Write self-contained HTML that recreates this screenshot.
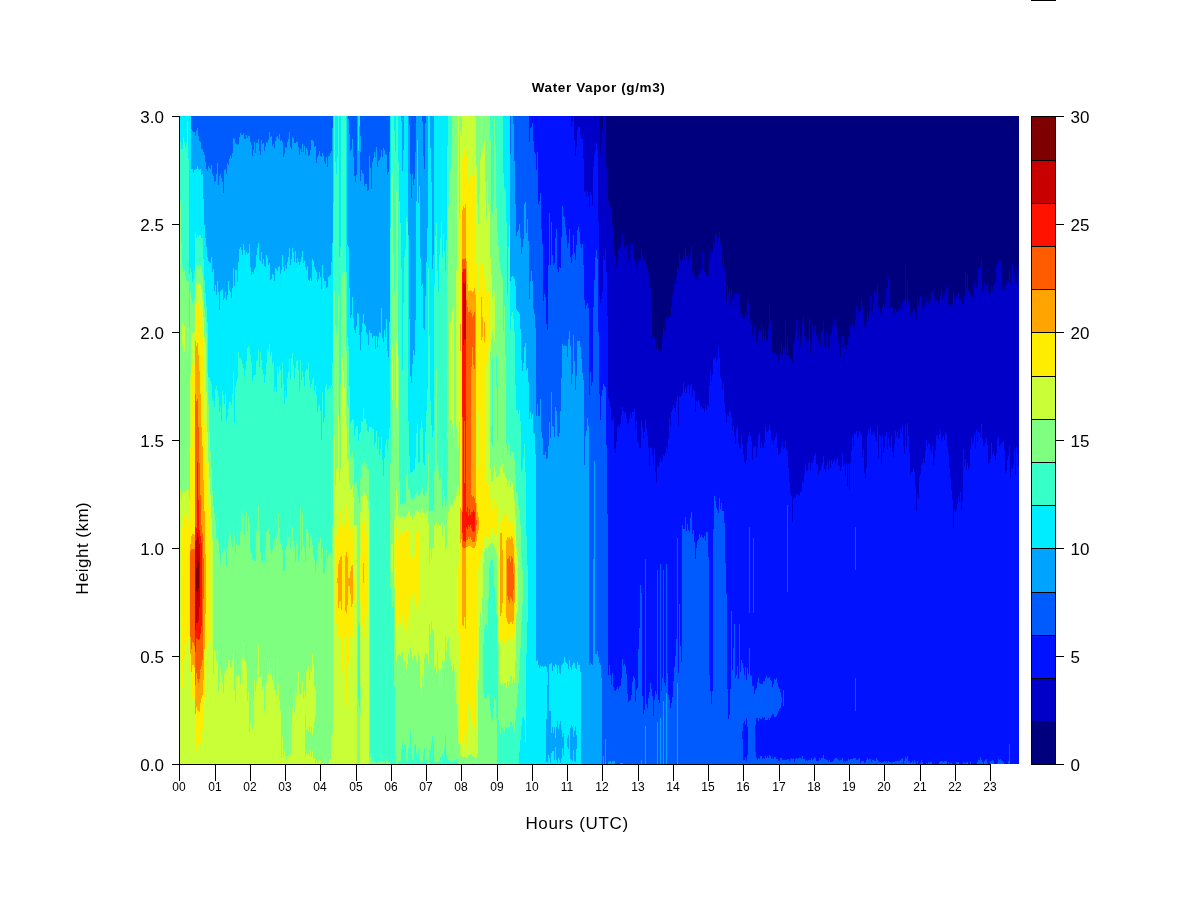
<!DOCTYPE html>
<html><head><meta charset="utf-8"><title>Water Vapor (g/m3)</title>
<style>
html,body{margin:0;padding:0;background:#fff;}
body{width:1200px;height:900px;overflow:hidden;position:relative;font-family:"Liberation Sans",sans-serif;}
svg{position:absolute;left:0;top:0;display:block}
text{font-family:"Liberation Sans",sans-serif;fill:#000}
.ax{font-size:17px}
.tk{font-size:12px}
.lab{font-size:17.5px}
.ttl{font-size:13.5px;font-weight:bold;letter-spacing:0.62px}
</style></head><body>
<svg width="1200" height="900" viewBox="0 0 1200 900">
<rect x="0" y="0" width="1200" height="900" fill="#fff"/>
<rect x="1031" y="0" width="25" height="1" fill="#000"/>
<g shape-rendering="crispEdges">
<path fill="#00007F" d="M599 116h1v9h-1zM600 116h1v37h-1zM601 116h1v25h-1zM602 116h1v14h-1zM606 116h1v52h-1zM607 116h1v69h-1zM608 116h1v85h-1zM609 116h1v84h-1zM610 116h1v91h-1zM611 116h1v99h-1zM612 116h1v110h-1zM613 116h1v130h-1zM614 116h1v139h-1zM615 116h1v144h-1zM616 116h1v150h-1zM617 116h1v145h-1zM618 116h1v134h-1zM619 116h1v133h-1zM620 116h1v130h-1zM621 116h1v126h-1zM622 116h1v118h-1zM623 116h1v126h-1zM624 116h1v131h-1zM625 116h1v133h-1zM626 116h1v129h-1zM627 116h1v130h-1zM628 116h1v144h-1zM629 116h1v145h-1zM630 116h1v127h-1zM631 116h1v134h-1zM632 116h1v128h-1zM633 116h1v137h-1zM634 116h1v143h-1zM635 116h1v159h-1zM636 116h1v149h-1zM637 116h1v163h-1zM638 116h1v144h-1zM639 116h1v146h-1zM640 116h1v143h-1zM641 116h1v131h-1zM642 116h1v138h-1zM643 116h1v142h-1zM644 116h1v145h-1zM645 116h1v141h-1zM646 116h1v151h-1zM647 116h1v152h-1zM648 116h1v157h-1zM649 116h1v176h-1zM650 116h1v171h-1zM651 116h1v193h-1zM652 116h1v221h-1zM653 116h1v222h-1zM654 116h1v221h-1zM655 116h1v226h-1zM656 116h1v234h-1zM657 116h1v229h-1zM658 116h1v234h-1zM659 116h1v234h-1zM660 116h1v235h-1zM661 116h1v234h-1zM662 116h1v221h-1zM663 116h1v211h-1zM664 116h1v215h-1zM665 116h1v209h-1zM666 116h1v202h-1zM667 116h1v205h-1zM668 116h1v201h-1zM669 116h1v203h-1zM670 116h1v199h-1zM671 116h1v190h-1zM672 116h1v180h-1zM673 116h1v176h-1zM674 116h1v168h-1zM675 116h1v168h-1zM676 116h1v160h-1zM677 116h1v150h-1zM678 116h1v153h-1zM679 116h1v138h-1zM680 116h1v144h-1zM681 116h1v155h-1zM682 116h1v143h-1zM683 116h1v138h-1zM684 116h1v144h-1zM685 116h1v132h-1zM686 116h1v140h-1zM687 116h1v140h-1zM688 116h1v143h-1zM689 116h1v149h-1zM690 116h1v138h-1zM691 116h1v130h-1zM692 116h1v157h-1zM693 116h1v154h-1zM694 116h1v160h-1zM695 116h1v168h-1zM696 116h1v164h-1zM697 116h1v164h-1zM698 116h1v159h-1zM699 116h1v157h-1zM700 116h1v154h-1zM701 116h1v154h-1zM702 116h1v135h-1zM703 116h1v151h-1zM704 116h1v156h-1zM705 116h1v156h-1zM706 116h1v160h-1zM707 116h1v160h-1zM708 116h1v159h-1zM709 116h1v144h-1zM710 116h1v135h-1zM711 116h1v143h-1zM712 116h1v136h-1zM713 116h1v125h-1zM714 116h1v128h-1zM715 116h1v117h-1zM716 116h1v119h-1zM717 116h1v127h-1zM718 116h1v122h-1zM719 116h1v116h-1zM720 116h1v128h-1zM721 116h1v133h-1zM722 116h1v149h-1zM723 116h1v143h-1zM724 116h1v153h-1zM725 116h1v166h-1zM726 116h1v186h-1zM727 116h1v169h-1zM728 116h1v177h-1zM729 116h1v174h-1zM730 116h1v189h-1zM731 116h1v174h-1zM732 116h1v182h-1zM733 116h1v185h-1zM734 116h1v177h-1zM735 116h1v191h-1zM736 116h1v178h-1zM737 116h1v179h-1zM738 116h1v178h-1zM739 116h1v191h-1zM740 116h1v195h-1zM741 116h1v197h-1zM742 116h1v202h-1zM743 116h1v203h-1zM744 116h1v202h-1zM745 116h1v196h-1zM746 116h1v200h-1zM747 116h1v182h-1zM748 116h1v188h-1zM749 116h1v206h-1zM750 116h1v205h-1zM751 116h1v210h-1zM752 116h1v219h-1zM753 116h1v219h-1zM754 116h1v209h-1zM755 116h1v220h-1zM756 116h1v227h-1zM757 116h1v226h-1zM758 116h1v216h-1zM759 116h1v213h-1zM760 116h1v215h-1zM761 116h1v208h-1zM762 116h1v224h-1zM763 116h1v212h-1zM764 116h1v224h-1zM765 116h1v215h-1zM766 116h1v224h-1zM767 116h1v226h-1zM768 116h1v213h-1zM769 116h1v187h-1zM770 116h1v206h-1zM771 116h1v233h-1zM772 116h1v236h-1zM773 116h1v239h-1zM774 116h1v237h-1zM775 116h1v237h-1zM776 116h1v238h-1zM777 116h1v242h-1zM778 116h1v246h-1zM779 116h1v244h-1zM780 116h1v237h-1zM781 116h1v226h-1zM782 116h1v239h-1zM783 116h1v231h-1zM784 116h1v232h-1zM785 116h1v206h-1zM786 116h1v240h-1zM787 116h1v221h-1zM788 116h1v239h-1zM789 116h1v245h-1zM790 116h1v243h-1zM791 116h1v243h-1zM792 116h1v246h-1zM793 116h1v229h-1zM794 116h1v223h-1zM795 116h1v215h-1zM796 116h1v203h-1zM797 116h1v214h-1zM798 116h1v222h-1zM799 116h1v214h-1zM800 116h1v229h-1zM801 116h1v221h-1zM802 116h1v206h-1zM803 116h1v200h-1zM804 116h1v219h-1zM805 116h1v230h-1zM806 116h1v224h-1zM807 116h1v235h-1zM808 116h1v224h-1zM809 116h1v201h-1zM810 116h1v237h-1zM811 116h1v229h-1zM812 116h1v209h-1zM813 116h1v220h-1zM814 116h1v215h-1zM815 116h1v209h-1zM816 116h1v219h-1zM817 116h1v234h-1zM818 116h1v225h-1zM819 116h1v223h-1zM820 116h1v229h-1zM821 116h1v214h-1zM822 116h1v216h-1zM823 116h1v205h-1zM824 116h1v229h-1zM825 116h1v231h-1zM826 116h1v216h-1zM827 116h1v231h-1zM828 116h1v233h-1zM829 116h1v231h-1zM830 116h1v219h-1zM831 116h1v219h-1zM832 116h1v209h-1zM833 116h1v219h-1zM834 116h1v202h-1zM835 116h1v208h-1zM836 116h1v211h-1zM837 116h1v216h-1zM838 116h1v225h-1zM839 116h1v232h-1zM840 116h1v241h-1zM841 116h1v231h-1zM842 116h1v220h-1zM843 116h1v232h-1zM844 116h1v229h-1zM845 116h1v230h-1zM846 116h1v233h-1zM847 116h1v229h-1zM848 116h1v221h-1zM849 116h1v230h-1zM850 116h1v210h-1zM851 116h1v212h-1zM852 116h1v208h-1zM853 116h1v216h-1zM854 116h1v211h-1zM855 116h1v204h-1zM856 116h1v190h-1zM857 116h1v204h-1zM858 116h1v196h-1zM859 116h1v197h-1zM860 116h1v195h-1zM861 116h1v182h-1zM862 116h1v190h-1zM863 116h1v203h-1zM864 116h1v211h-1zM865 116h1v212h-1zM866 116h1v205h-1zM867 116h1v196h-1zM868 116h1v202h-1zM869 116h1v195h-1zM870 116h1v179h-1zM871 116h1v195h-1zM872 116h1v197h-1zM873 116h1v187h-1zM874 116h1v176h-1zM875 116h1v186h-1zM876 116h1v177h-1zM877 116h1v167h-1zM878 116h1v192h-1zM879 116h1v190h-1zM880 116h1v197h-1zM881 116h1v201h-1zM882 116h1v191h-1zM883 116h1v188h-1zM884 116h1v191h-1zM885 116h1v187h-1zM886 116h1v173h-1zM887 116h1v187h-1zM888 116h1v161h-1zM889 116h1v196h-1zM890 116h1v192h-1zM891 116h1v190h-1zM892 116h1v192h-1zM893 116h1v201h-1zM894 116h1v198h-1zM895 116h1v192h-1zM896 116h1v195h-1zM897 116h1v197h-1zM898 116h1v193h-1zM899 116h1v200h-1zM900 116h1v191h-1zM901 116h1v197h-1zM902 116h1v186h-1zM903 116h1v194h-1zM904 116h1v184h-1zM905 116h1v147h-1zM906 116h1v188h-1zM907 116h1v165h-1zM908 116h1v184h-1zM909 116h1v191h-1zM910 116h1v199h-1zM911 116h1v195h-1zM912 116h1v196h-1zM913 116h1v192h-1zM914 116h1v194h-1zM915 116h1v199h-1zM916 116h1v203h-1zM917 116h1v184h-1zM918 116h1v189h-1zM919 116h1v182h-1zM920 116h1v180h-1zM921 116h1v182h-1zM922 116h1v191h-1zM923 116h1v194h-1zM924 116h1v189h-1zM925 116h1v191h-1zM926 116h1v182h-1zM927 116h1v186h-1zM928 116h1v188h-1zM929 116h1v183h-1zM930 116h1v186h-1zM931 116h1v175h-1zM932 116h1v176h-1zM933 116h1v185h-1zM934 116h1v184h-1zM935 116h1v187h-1zM936 116h1v184h-1zM937 116h1v185h-1zM938 116h1v188h-1zM939 116h1v184h-1zM940 116h1v180h-1zM941 116h1v173h-1zM942 116h1v183h-1zM943 116h1v177h-1zM944 116h1v178h-1zM945 116h1v181h-1zM946 116h1v170h-1zM947 116h1v188h-1zM948 116h1v188h-1zM949 116h1v191h-1zM950 116h1v191h-1zM951 116h1v188h-1zM952 116h1v188h-1zM953 116h1v176h-1zM954 116h1v181h-1zM955 116h1v186h-1zM956 116h1v179h-1zM957 116h1v182h-1zM958 116h1v177h-1zM959 116h1v187h-1zM960 116h1v184h-1zM961 116h1v190h-1zM962 116h1v188h-1zM963 116h1v189h-1zM964 116h1v180h-1zM965 116h1v156h-1zM966 116h1v173h-1zM967 116h1v158h-1zM968 116h1v175h-1zM969 116h1v173h-1zM970 116h1v179h-1zM971 116h1v179h-1zM972 116h1v182h-1zM973 116h1v181h-1zM974 116h1v167h-1zM975 116h1v182h-1zM976 116h1v172h-1zM977 116h1v172h-1zM978 116h1v152h-1zM979 116h1v158h-1zM980 116h1v152h-1zM981 116h1v142h-1zM982 116h1v176h-1zM983 116h1v175h-1zM984 116h1v167h-1zM985 116h1v174h-1zM986 116h1v170h-1zM987 116h1v166h-1zM988 116h1v175h-1zM989 116h1v182h-1zM990 116h1v178h-1zM991 116h1v170h-1zM992 116h1v175h-1zM993 116h1v170h-1zM994 116h1v167h-1zM995 116h1v167h-1zM996 116h1v150h-1zM997 116h1v167h-1zM998 116h1v145h-1zM999 116h1v152h-1zM1000 116h1v145h-1zM1001 116h1v154h-1zM1002 116h1v174h-1zM1003 116h1v169h-1zM1004 116h1v173h-1zM1005 116h1v170h-1zM1006 116h1v166h-1zM1007 116h1v169h-1zM1008 116h1v166h-1zM1009 116h1v154h-1zM1010 116h1v167h-1zM1011 116h1v160h-1zM1012 116h1v147h-1zM1013 116h1v159h-1zM1014 116h1v158h-1zM1015 116h1v165h-1zM1016 116h1v167h-1zM1017 116h1v158h-1zM1018 116h1v152h-1z"/>
<path fill="#0000C8" d="M571 116h1v11h-1zM572 116h1v6h-1zM574 116h1v24h-1zM575 116h1v40h-1zM576 116h1v31h-1zM577 116h1v14h-1zM578 116h1v11h-1zM579 116h1v11h-1zM580 116h1v19h-1zM581 116h1v23h-1zM582 116h1v23h-1zM583 116h1v43h-1zM584 116h1v76h-1zM585 116h1v74h-1zM586 116h1v81h-1zM587 116h1v75h-1zM588 116h1v80h-1zM589 116h1v91h-1zM590 116h1v76h-1zM591 116h1v79h-1zM592 116h1v89h-1zM593 116h1v51h-1zM594 116h1v38h-1zM595 116h1v35h-1zM596 116h1v27h-1zM597 116h1v33h-1zM598 116h1v105h-1zM599 125h1v171h-1zM600 153h1v150h-1zM601 141h1v158h-1zM602 130h1v162h-1zM603 116h1v140h-1zM604 116h1v144h-1zM605 116h1v133h-1zM606 168h1v104h-1zM607 185h1v131h-1zM608 201h1v197h-1zM609 200h1v201h-1zM610 207h1v200h-1zM611 215h1v205h-1zM612 226h1v195h-1zM613 246h1v172h-1zM614 255h1v194h-1zM615 260h1v193h-1zM616 266h1v175h-1zM617 261h1v166h-1zM618 250h1v175h-1zM619 249h1v179h-1zM620 246h1v178h-1zM621 242h1v173h-1zM622 234h1v173h-1zM623 242h1v169h-1zM624 247h1v165h-1zM625 249h1v164h-1zM626 245h1v173h-1zM627 246h1v178h-1zM628 260h1v163h-1zM629 261h1v158h-1zM630 243h1v170h-1zM631 250h1v168h-1zM632 244h1v168h-1zM633 253h1v159h-1zM634 259h1v150h-1zM635 275h1v155h-1zM636 265h1v156h-1zM637 279h1v162h-1zM638 260h1v183h-1zM639 262h1v186h-1zM640 259h1v189h-1zM641 247h1v173h-1zM642 254h1v173h-1zM643 258h1v180h-1zM644 261h1v171h-1zM645 257h1v162h-1zM646 267h1v161h-1zM647 268h1v168h-1zM648 273h1v175h-1zM649 292h1v174h-1zM650 287h1v160h-1zM651 309h1v139h-1zM652 337h1v118h-1zM653 338h1v127h-1zM654 337h1v113h-1zM655 342h1v130h-1zM656 350h1v133h-1zM657 345h1v121h-1zM658 350h1v117h-1zM659 350h1v112h-1zM660 351h1v107h-1zM661 350h1v112h-1zM662 337h1v123h-1zM663 327h1v128h-1zM664 331h1v125h-1zM665 325h1v128h-1zM666 318h1v129h-1zM667 321h1v128h-1zM668 317h1v122h-1zM669 319h1v99h-1zM670 315h1v111h-1zM671 306h1v106h-1zM672 296h1v113h-1zM673 292h1v113h-1zM674 284h1v124h-1zM675 284h1v128h-1zM676 276h1v125h-1zM677 266h1v130h-1zM678 269h1v157h-1zM679 254h1v143h-1zM680 260h1v137h-1zM681 271h1v125h-1zM682 259h1v134h-1zM683 254h1v128h-1zM684 260h1v132h-1zM685 248h1v139h-1zM686 256h1v137h-1zM687 256h1v130h-1zM688 259h1v126h-1zM689 265h1v129h-1zM690 254h1v132h-1zM691 246h1v138h-1zM692 273h1v124h-1zM693 270h1v119h-1zM694 276h1v115h-1zM695 284h1v128h-1zM696 280h1v121h-1zM697 280h1v122h-1zM698 275h1v125h-1zM699 273h1v128h-1zM700 270h1v137h-1zM701 270h1v136h-1zM702 251h1v158h-1zM703 267h1v141h-1zM704 272h1v140h-1zM705 272h1v132h-1zM706 276h1v134h-1zM707 276h1v129h-1zM708 275h1v131h-1zM709 260h1v125h-1zM710 251h1v120h-1zM711 259h1v122h-1zM712 252h1v123h-1zM713 241h1v118h-1zM714 244h1v114h-1zM715 233h1v124h-1zM716 235h1v127h-1zM717 243h1v116h-1zM718 238h1v109h-1zM719 232h1v126h-1zM720 244h1v133h-1zM721 249h1v131h-1zM722 265h1v125h-1zM723 259h1v124h-1zM724 269h1v134h-1zM725 282h1v131h-1zM726 302h1v121h-1zM727 285h1v130h-1zM728 293h1v123h-1zM729 290h1v122h-1zM730 305h1v106h-1zM731 290h1v127h-1zM732 298h1v132h-1zM733 301h1v125h-1zM734 293h1v143h-1zM735 307h1v137h-1zM736 294h1v135h-1zM737 295h1v132h-1zM738 294h1v149h-1zM739 307h1v141h-1zM740 311h1v138h-1zM741 313h1v122h-1zM742 318h1v126h-1zM743 319h1v135h-1zM744 318h1v144h-1zM745 312h1v152h-1zM746 316h1v144h-1zM747 298h1v144h-1zM748 304h1v132h-1zM749 322h1v110h-1zM750 321h1v115h-1zM751 326h1v115h-1zM752 335h1v125h-1zM753 335h1v113h-1zM754 325h1v121h-1zM755 336h1v110h-1zM756 343h1v114h-1zM757 342h1v106h-1zM758 332h1v104h-1zM759 329h1v104h-1zM760 331h1v117h-1zM761 324h1v118h-1zM762 340h1v107h-1zM763 328h1v120h-1zM764 340h1v102h-1zM765 331h1v96h-1zM766 340h1v91h-1zM767 342h1v90h-1zM768 329h1v101h-1zM769 303h1v122h-1zM770 322h1v108h-1zM771 349h1v90h-1zM772 352h1v89h-1zM773 355h1v90h-1zM774 353h1v87h-1zM775 353h1v84h-1zM776 354h1v79h-1zM777 358h1v90h-1zM778 362h1v93h-1zM779 360h1v94h-1zM780 353h1v99h-1zM781 342h1v105h-1zM782 355h1v87h-1zM783 347h1v102h-1zM784 348h1v100h-1zM785 322h1v119h-1zM786 356h1v94h-1zM787 337h1v114h-1zM788 355h1v113h-1zM789 361h1v121h-1zM790 359h1v134h-1zM791 359h1v137h-1zM792 362h1v160h-1zM793 345h1v154h-1zM794 339h1v158h-1zM795 331h1v167h-1zM796 319h1v174h-1zM797 330h1v165h-1zM798 338h1v157h-1zM799 330h1v166h-1zM800 345h1v147h-1zM801 337h1v155h-1zM802 322h1v160h-1zM803 316h1v167h-1zM804 335h1v139h-1zM805 346h1v118h-1zM806 340h1v130h-1zM807 351h1v120h-1zM808 340h1v123h-1zM809 317h1v145h-1zM810 353h1v118h-1zM811 345h1v118h-1zM812 325h1v138h-1zM813 336h1v124h-1zM814 331h1v125h-1zM815 325h1v128h-1zM816 335h1v129h-1zM817 350h1v115h-1zM818 341h1v134h-1zM819 339h1v132h-1zM820 345h1v125h-1zM821 330h1v136h-1zM822 332h1v131h-1zM823 321h1v135h-1zM824 345h1v124h-1zM825 347h1v125h-1zM826 332h1v133h-1zM827 347h1v115h-1zM828 349h1v121h-1zM829 347h1v113h-1zM830 335h1v133h-1zM831 335h1v125h-1zM832 325h1v139h-1zM833 335h1v126h-1zM834 318h1v141h-1zM835 324h1v139h-1zM836 327h1v133h-1zM837 332h1v126h-1zM838 341h1v125h-1zM839 348h1v118h-1zM840 357h1v114h-1zM841 347h1v120h-1zM842 336h1v117h-1zM843 348h1v118h-1zM844 345h1v119h-1zM845 346h1v130h-1zM846 349h1v114h-1zM847 345h1v142h-1zM848 337h1v127h-1zM849 346h1v144h-1zM850 326h1v137h-1zM851 328h1v123h-1zM852 324h1v113h-1zM853 332h1v115h-1zM854 327h1v107h-1zM855 320h1v114h-1zM856 306h1v125h-1zM857 320h1v118h-1zM858 312h1v124h-1zM859 313h1v118h-1zM860 311h1v122h-1zM861 298h1v137h-1zM862 306h1v151h-1zM863 319h1v130h-1zM864 327h1v146h-1zM865 328h1v150h-1zM866 321h1v147h-1zM867 312h1v123h-1zM868 318h1v113h-1zM869 311h1v122h-1zM870 295h1v132h-1zM871 311h1v124h-1zM872 313h1v122h-1zM873 303h1v128h-1zM874 292h1v141h-1zM875 302h1v135h-1zM876 293h1v148h-1zM877 283h1v143h-1zM878 308h1v150h-1zM879 306h1v129h-1zM880 313h1v123h-1zM881 317h1v147h-1zM882 307h1v128h-1zM883 304h1v149h-1zM884 307h1v140h-1zM885 303h1v133h-1zM886 289h1v143h-1zM887 303h1v146h-1zM888 277h1v161h-1zM889 312h1v134h-1zM890 308h1v140h-1zM891 306h1v130h-1zM892 308h1v144h-1zM893 317h1v140h-1zM894 314h1v130h-1zM895 308h1v123h-1zM896 311h1v126h-1zM897 313h1v119h-1zM898 309h1v130h-1zM899 316h1v122h-1zM900 307h1v122h-1zM901 313h1v120h-1zM902 302h1v123h-1zM903 310h1v136h-1zM904 300h1v154h-1zM905 263h1v162h-1zM906 304h1v143h-1zM907 281h1v142h-1zM908 300h1v136h-1zM909 307h1v146h-1zM910 315h1v160h-1zM911 311h1v161h-1zM912 312h1v160h-1zM913 308h1v160h-1zM914 310h1v162h-1zM915 315h1v171h-1zM916 319h1v192h-1zM917 300h1v194h-1zM918 305h1v194h-1zM919 298h1v179h-1zM920 296h1v178h-1zM921 298h1v167h-1zM922 307h1v156h-1zM923 310h1v148h-1zM924 305h1v158h-1zM925 307h1v144h-1zM926 298h1v142h-1zM927 302h1v145h-1zM928 304h1v139h-1zM929 299h1v145h-1zM930 302h1v148h-1zM931 291h1v162h-1zM932 292h1v154h-1zM933 301h1v164h-1zM934 300h1v158h-1zM935 303h1v147h-1zM936 300h1v136h-1zM937 301h1v134h-1zM938 304h1v135h-1zM939 300h1v134h-1zM940 296h1v134h-1zM941 289h1v152h-1zM942 299h1v139h-1zM943 293h1v143h-1zM944 294h1v146h-1zM945 297h1v135h-1zM946 286h1v148h-1zM947 304h1v143h-1zM948 304h1v150h-1zM949 307h1v161h-1zM950 307h1v171h-1zM951 304h1v186h-1zM952 304h1v196h-1zM953 292h1v236h-1zM954 297h1v213h-1zM955 302h1v210h-1zM956 295h1v214h-1zM957 298h1v206h-1zM958 293h1v204h-1zM959 303h1v199h-1zM960 300h1v192h-1zM961 306h1v204h-1zM962 304h1v197h-1zM963 305h1v144h-1zM964 296h1v170h-1zM965 272h1v187h-1zM966 289h1v181h-1zM967 274h1v189h-1zM968 291h1v178h-1zM969 289h1v178h-1zM970 295h1v154h-1zM971 295h1v143h-1zM972 298h1v146h-1zM973 297h1v145h-1zM974 283h1v151h-1zM975 298h1v151h-1zM976 288h1v142h-1zM977 288h1v154h-1zM978 268h1v164h-1zM979 274h1v159h-1zM980 268h1v169h-1zM981 258h1v166h-1zM982 292h1v147h-1zM983 291h1v155h-1zM984 283h1v163h-1zM985 290h1v153h-1zM986 286h1v152h-1zM987 282h1v163h-1zM988 291h1v173h-1zM989 298h1v165h-1zM990 294h1v165h-1zM991 286h1v157h-1zM992 291h1v164h-1zM993 286h1v166h-1zM994 283h1v173h-1zM995 283h1v177h-1zM996 266h1v187h-1zM997 283h1v156h-1zM998 261h1v175h-1zM999 268h1v179h-1zM1000 261h1v184h-1zM1001 270h1v173h-1zM1002 290h1v152h-1zM1003 285h1v156h-1zM1004 289h1v161h-1zM1005 286h1v187h-1zM1006 282h1v189h-1zM1007 285h1v175h-1zM1008 282h1v174h-1zM1009 270h1v176h-1zM1010 283h1v195h-1zM1011 276h1v192h-1zM1012 263h1v206h-1zM1013 275h1v190h-1zM1014 274h1v176h-1zM1015 281h1v194h-1zM1016 283h1v164h-1zM1017 274h1v179h-1zM1018 268h1v199h-1z"/>
<path fill="#0012FF" d="M529 116h1v26h-1zM530 116h1v12h-1zM531 116h1v11h-1zM532 116h1v7h-1zM533 116h1v25h-1zM534 116h1v36h-1zM535 116h1v38h-1zM536 116h1v54h-1zM537 116h1v36h-1zM538 116h1v88h-1zM539 116h1v85h-1zM540 116h1v77h-1zM541 116h1v113h-1zM542 116h1v128h-1zM543 116h1v185h-1zM544 116h1v178h-1zM545 116h1v181h-1zM546 116h1v208h-1zM547 116h1v214h-1zM548 116h1v149h-1zM549 116h1v97h-1zM550 116h1v149h-1zM551 116h1v106h-1zM552 116h1v139h-1zM553 116h1v149h-1zM554 116h1v147h-1zM555 116h1v122h-1zM556 116h1v113h-1zM557 116h1v153h-1zM558 116h1v156h-1zM559 116h1v151h-1zM560 116h1v152h-1zM561 116h1v121h-1zM562 116h1v90h-1zM563 116h1v100h-1zM564 116h1v101h-1zM565 116h1v111h-1zM566 116h1v119h-1zM567 116h1v132h-1zM568 116h1v127h-1zM569 116h1v113h-1zM570 116h1v141h-1zM571 127h1v136h-1zM572 122h1v133h-1zM573 116h1v119h-1zM574 140h1v113h-1zM575 156h1v104h-1zM576 147h1v98h-1zM577 130h1v100h-1zM578 127h1v100h-1zM579 127h1v105h-1zM580 135h1v109h-1zM581 139h1v109h-1zM582 139h1v105h-1zM583 159h1v106h-1zM584 192h1v108h-1zM585 190h1v119h-1zM586 197h1v108h-1zM587 191h1v112h-1zM588 196h1v112h-1zM589 207h1v188h-1zM590 192h1v180h-1zM591 195h1v191h-1zM592 205h1v177h-1zM593 167h1v140h-1zM594 154h1v126h-1zM595 151h1v106h-1zM596 143h1v107h-1zM597 149h1v110h-1zM598 221h1v111h-1zM599 296h1v98h-1zM600 303h1v117h-1zM601 299h1v97h-1zM602 292h1v98h-1zM603 256h1v128h-1zM604 260h1v126h-1zM605 249h1v138h-1zM606 272h1v173h-1zM607 316h1v198h-1zM608 398h1v277h-1zM609 401h1v264h-1zM610 407h1v268h-1zM611 420h1v265h-1zM612 421h1v252h-1zM613 418h1v269h-1zM614 449h1v241h-1zM615 453h1v238h-1zM616 441h1v248h-1zM617 427h1v260h-1zM618 425h1v264h-1zM619 428h1v258h-1zM620 424h1v262h-1zM621 415h1v263h-1zM622 407h1v252h-1zM623 411h1v255h-1zM624 412h1v252h-1zM625 413h1v253h-1zM626 418h1v256h-1zM627 424h1v270h-1zM628 423h1v279h-1zM629 419h1v282h-1zM630 413h1v287h-1zM631 418h1v277h-1zM632 412h1v270h-1zM633 412h1v264h-1zM634 409h1v269h-1zM635 430h1v272h-1zM636 421h1v269h-1zM637 441h1v247h-1zM638 443h1v206h-1zM639 448h1v180h-1zM640 448h1v137h-1zM641 420h1v173h-1zM642 427h1v269h-1zM643 438h1v276h-1zM644 432h1v278h-1zM645 419h1v140h-1zM646 428h1v276h-1zM647 436h1v272h-1zM648 448h1v250h-1zM649 466h1v226h-1zM650 447h1v236h-1zM651 448h1v241h-1zM652 455h1v241h-1zM653 465h1v251h-1zM654 450h1v250h-1zM655 472h1v219h-1zM656 483h1v211h-1zM657 466h1v104h-1zM658 467h1v233h-1zM659 462h1v241h-1zM660 458h1v106h-1zM661 462h1v229h-1zM662 460h1v218h-1zM663 455h1v115h-1zM664 456h1v227h-1zM665 453h1v233h-1zM666 447h1v117h-1zM667 449h1v224h-1zM668 439h1v256h-1zM669 418h1v282h-1zM670 426h1v282h-1zM671 412h1v291h-1zM672 409h1v288h-1zM673 405h1v276h-1zM674 408h1v259h-1zM675 412h1v244h-1zM676 401h1v238h-1zM677 396h1v142h-1zM678 426h1v247h-1zM679 397h1v207h-1zM680 397h1v249h-1zM681 396h1v266h-1zM682 393h1v132h-1zM683 382h1v147h-1zM684 392h1v137h-1zM685 387h1v130h-1zM686 393h1v138h-1zM687 386h1v138h-1zM688 385h1v145h-1zM689 394h1v138h-1zM690 386h1v132h-1zM691 384h1v128h-1zM692 397h1v137h-1zM693 389h1v141h-1zM694 391h1v151h-1zM695 412h1v147h-1zM696 401h1v147h-1zM697 402h1v139h-1zM698 400h1v139h-1zM699 401h1v133h-1zM700 407h1v130h-1zM701 406h1v129h-1zM702 409h1v128h-1zM703 408h1v130h-1zM704 412h1v124h-1zM705 404h1v137h-1zM706 410h1v122h-1zM707 405h1v127h-1zM708 406h1v151h-1zM709 385h1v290h-1zM710 371h1v320h-1zM711 381h1v323h-1zM712 375h1v316h-1zM713 359h1v170h-1zM714 358h1v138h-1zM715 357h1v144h-1zM716 362h1v146h-1zM717 359h1v151h-1zM718 347h1v166h-1zM719 358h1v140h-1zM720 377h1v132h-1zM721 380h1v123h-1zM722 390h1v121h-1zM723 383h1v128h-1zM724 403h1v120h-1zM725 413h1v150h-1zM726 423h1v171h-1zM727 415h1v274h-1zM728 416h1v303h-1zM729 412h1v303h-1zM730 411h1v278h-1zM731 417h1v194h-1zM732 430h1v240h-1zM733 426h1v222h-1zM734 436h1v188h-1zM735 444h1v234h-1zM736 429h1v246h-1zM737 427h1v239h-1zM738 443h1v236h-1zM739 448h1v176h-1zM740 449h1v223h-1zM741 435h1v225h-1zM742 444h1v219h-1zM742 731h1v8h-1zM743 454h1v214h-1zM743 723h1v37h-1zM744 462h1v213h-1zM744 721h1v39h-1zM745 464h1v203h-1zM745 725h1v32h-1zM746 460h1v220h-1zM746 718h1v43h-1zM747 442h1v226h-1zM747 727h1v28h-1zM748 436h1v238h-1zM749 432h1v95h-1zM749 613h1v35h-1zM750 436h1v239h-1zM751 441h1v235h-1zM752 460h1v226h-1zM753 448h1v90h-1zM753 613h1v73h-1zM754 446h1v248h-1zM755 446h1v244h-1zM755 725h1v27h-1zM756 457h1v231h-1zM756 718h1v40h-1zM757 448h1v234h-1zM757 718h1v42h-1zM758 436h1v242h-1zM758 721h1v37h-1zM759 433h1v250h-1zM759 718h1v41h-1zM760 448h1v236h-1zM760 719h1v37h-1zM761 442h1v242h-1zM761 719h1v37h-1zM762 447h1v237h-1zM762 717h1v42h-1zM763 448h1v233h-1zM763 718h1v40h-1zM764 442h1v239h-1zM764 717h1v42h-1zM765 427h1v251h-1zM765 720h1v36h-1zM766 431h1v245h-1zM766 720h1v38h-1zM767 432h1v246h-1zM767 720h1v36h-1zM768 430h1v248h-1zM768 718h1v40h-1zM769 425h1v252h-1zM769 720h1v35h-1zM770 430h1v250h-1zM770 718h1v38h-1zM771 439h1v242h-1zM771 716h1v43h-1zM772 441h1v246h-1zM772 714h1v44h-1zM773 445h1v239h-1zM773 714h1v45h-1zM774 440h1v239h-1zM774 717h1v40h-1zM775 437h1v243h-1zM775 717h1v40h-1zM776 433h1v245h-1zM776 716h1v43h-1zM777 448h1v235h-1zM777 714h1v45h-1zM778 455h1v232h-1zM778 711h1v50h-1zM779 454h1v235h-1zM779 709h1v52h-1zM780 452h1v240h-1zM780 708h1v50h-1zM781 447h1v250h-1zM781 703h1v55h-1zM782 442h1v318h-1zM783 449h1v241h-1zM783 706h1v54h-1zM784 448h1v312h-1zM785 441h1v319h-1zM786 450h1v310h-1zM787 451h1v54h-1zM787 592h1v167h-1zM788 468h1v291h-1zM789 482h1v279h-1zM790 493h1v266h-1zM791 496h1v262h-1zM792 522h1v237h-1zM793 499h1v259h-1zM794 497h1v265h-1zM795 498h1v261h-1zM796 493h1v265h-1zM797 495h1v264h-1zM798 495h1v263h-1zM799 496h1v262h-1zM800 492h1v266h-1zM801 492h1v267h-1zM802 482h1v274h-1zM803 483h1v276h-1zM804 474h1v285h-1zM805 464h1v297h-1zM806 470h1v290h-1zM807 471h1v290h-1zM808 463h1v297h-1zM809 462h1v298h-1zM810 471h1v289h-1zM811 463h1v295h-1zM812 463h1v297h-1zM813 460h1v299h-1zM814 456h1v301h-1zM815 453h1v305h-1zM816 464h1v297h-1zM817 465h1v296h-1zM818 475h1v286h-1zM819 471h1v287h-1zM820 470h1v290h-1zM821 466h1v292h-1zM822 463h1v295h-1zM823 456h1v299h-1zM824 469h1v290h-1zM825 472h1v287h-1zM826 465h1v295h-1zM827 462h1v298h-1zM828 470h1v292h-1zM829 460h1v300h-1zM830 468h1v294h-1zM831 460h1v302h-1zM832 464h1v298h-1zM833 461h1v300h-1zM834 459h1v300h-1zM835 463h1v295h-1zM836 460h1v298h-1zM837 458h1v301h-1zM838 466h1v294h-1zM839 466h1v295h-1zM840 471h1v289h-1zM841 467h1v293h-1zM842 453h1v305h-1zM843 466h1v296h-1zM844 464h1v297h-1zM845 476h1v286h-1zM846 463h1v298h-1zM847 487h1v274h-1zM848 464h1v295h-1zM849 490h1v270h-1zM850 463h1v296h-1zM851 451h1v308h-1zM852 437h1v322h-1zM853 447h1v311h-1zM854 434h1v324h-1zM855 434h1v93h-1zM855 570h1v108h-1zM855 711h1v47h-1zM856 431h1v329h-1zM857 438h1v322h-1zM858 436h1v323h-1zM859 431h1v327h-1zM860 433h1v330h-1zM861 435h1v326h-1zM862 457h1v304h-1zM863 449h1v312h-1zM864 473h1v290h-1zM865 478h1v284h-1zM866 468h1v292h-1zM867 435h1v323h-1zM868 431h1v329h-1zM869 433h1v326h-1zM870 427h1v332h-1zM871 435h1v327h-1zM872 435h1v325h-1zM873 431h1v329h-1zM874 433h1v328h-1zM875 437h1v324h-1zM876 441h1v317h-1zM877 426h1v334h-1zM878 458h1v303h-1zM879 435h1v327h-1zM880 436h1v326h-1zM881 464h1v299h-1zM882 435h1v327h-1zM883 453h1v309h-1zM884 447h1v314h-1zM885 436h1v326h-1zM886 432h1v329h-1zM887 449h1v314h-1zM888 438h1v323h-1zM889 446h1v316h-1zM890 448h1v314h-1zM891 436h1v327h-1zM892 452h1v310h-1zM893 457h1v305h-1zM894 444h1v318h-1zM895 431h1v330h-1zM896 437h1v324h-1zM897 432h1v329h-1zM898 439h1v322h-1zM899 438h1v323h-1zM900 429h1v331h-1zM901 433h1v326h-1zM902 425h1v333h-1zM903 446h1v318h-1zM904 454h1v307h-1zM905 425h1v332h-1zM906 447h1v312h-1zM907 423h1v333h-1zM908 436h1v325h-1zM909 453h1v308h-1zM910 475h1v288h-1zM911 472h1v290h-1zM912 472h1v289h-1zM913 468h1v295h-1zM914 472h1v288h-1zM915 486h1v276h-1zM916 511h1v253h-1zM917 494h1v267h-1zM918 499h1v265h-1zM919 477h1v287h-1zM920 474h1v289h-1zM921 465h1v295h-1zM922 463h1v299h-1zM923 458h1v306h-1zM924 463h1v301h-1zM925 451h1v313h-1zM926 440h1v323h-1zM927 447h1v317h-1zM928 443h1v319h-1zM929 444h1v319h-1zM930 450h1v312h-1zM931 453h1v309h-1zM932 446h1v318h-1zM933 465h1v299h-1zM934 458h1v306h-1zM935 450h1v314h-1zM936 436h1v328h-1zM937 435h1v329h-1zM938 439h1v325h-1zM939 434h1v328h-1zM940 430h1v331h-1zM941 441h1v320h-1zM942 438h1v323h-1zM943 436h1v326h-1zM944 440h1v321h-1zM945 432h1v329h-1zM946 434h1v327h-1zM947 447h1v317h-1zM948 454h1v308h-1zM949 468h1v296h-1zM950 478h1v285h-1zM951 490h1v273h-1zM952 500h1v264h-1zM953 528h1v236h-1zM954 510h1v254h-1zM955 512h1v252h-1zM956 509h1v253h-1zM957 504h1v258h-1zM958 497h1v265h-1zM959 502h1v262h-1zM960 492h1v272h-1zM961 510h1v254h-1zM962 501h1v263h-1zM963 449h1v313h-1zM964 466h1v297h-1zM965 459h1v304h-1zM966 470h1v292h-1zM967 463h1v299h-1zM968 469h1v295h-1zM969 467h1v297h-1zM970 449h1v313h-1zM971 438h1v326h-1zM972 444h1v320h-1zM973 442h1v322h-1zM974 434h1v330h-1zM975 449h1v315h-1zM976 430h1v334h-1zM977 442h1v320h-1zM978 432h1v328h-1zM979 433h1v327h-1zM980 437h1v320h-1zM981 424h1v336h-1zM982 439h1v323h-1zM983 446h1v318h-1zM984 446h1v315h-1zM985 443h1v317h-1zM986 438h1v321h-1zM987 445h1v318h-1zM988 464h1v300h-1zM989 463h1v301h-1zM990 459h1v302h-1zM991 443h1v318h-1zM992 455h1v305h-1zM993 452h1v309h-1zM994 456h1v308h-1zM995 460h1v304h-1zM996 453h1v311h-1zM997 439h1v324h-1zM998 436h1v323h-1zM999 447h1v313h-1zM1000 445h1v314h-1zM1001 443h1v318h-1zM1002 442h1v319h-1zM1003 441h1v321h-1zM1004 450h1v314h-1zM1005 473h1v291h-1zM1006 471h1v293h-1zM1007 460h1v304h-1zM1008 456h1v305h-1zM1009 446h1v298h-1zM1010 478h1v286h-1zM1011 468h1v296h-1zM1012 469h1v295h-1zM1013 465h1v299h-1zM1014 450h1v314h-1zM1015 475h1v289h-1zM1016 447h1v317h-1zM1017 453h1v311h-1zM1018 467h1v297h-1z"/>
<path fill="#005BFF" d="M191 116h1v13h-1zM192 116h1v15h-1zM193 116h1v16h-1zM194 116h1v16h-1zM195 116h1v20h-1zM196 116h1v15h-1zM197 116h1v12h-1zM198 116h1v20h-1zM199 116h1v25h-1zM200 116h1v26h-1zM201 116h1v33h-1zM202 116h1v33h-1zM203 116h1v36h-1zM204 116h1v39h-1zM205 116h1v46h-1zM206 116h1v53h-1zM207 116h1v55h-1zM208 116h1v50h-1zM209 116h1v52h-1zM210 116h1v53h-1zM211 116h1v49h-1zM212 116h1v58h-1zM213 116h1v60h-1zM214 116h1v66h-1zM215 116h1v65h-1zM216 116h1v58h-1zM217 116h1v47h-1zM218 116h1v69h-1zM219 116h1v60h-1zM220 116h1v58h-1zM221 116h1v62h-1zM222 116h1v66h-1zM223 116h1v77h-1zM224 116h1v54h-1zM225 116h1v53h-1zM226 116h1v58h-1zM227 116h1v47h-1zM228 116h1v49h-1zM229 116h1v43h-1zM230 116h1v40h-1zM231 116h1v42h-1zM232 116h1v37h-1zM233 116h1v22h-1zM234 116h1v23h-1zM235 116h1v27h-1zM236 116h1v28h-1zM237 116h1v29h-1zM238 116h1v28h-1zM239 116h1v21h-1zM240 116h1v17h-1zM241 116h1v19h-1zM242 116h1v19h-1zM243 116h1v17h-1zM244 116h1v23h-1zM245 116h1v23h-1zM246 116h1v19h-1zM247 116h1v22h-1zM248 116h1v20h-1zM249 116h1v20h-1zM250 116h1v26h-1zM251 116h1v29h-1zM252 116h1v40h-1zM253 116h1v34h-1zM254 116h1v26h-1zM255 116h1v37h-1zM256 116h1v27h-1zM257 116h1v27h-1zM258 116h1v23h-1zM259 116h1v35h-1zM260 116h1v39h-1zM261 116h1v24h-1zM262 116h1v28h-1zM263 116h1v27h-1zM264 116h1v35h-1zM265 116h1v30h-1zM266 116h1v26h-1zM267 116h1v27h-1zM268 116h1v24h-1zM269 116h1v16h-1zM270 116h1v21h-1zM271 116h1v20h-1zM272 116h1v30h-1zM273 116h1v28h-1zM274 116h1v32h-1zM275 116h1v25h-1zM276 116h1v21h-1zM277 116h1v20h-1zM278 116h1v23h-1zM279 116h1v18h-1zM280 116h1v25h-1zM281 116h1v24h-1zM282 116h1v26h-1zM283 116h1v41h-1zM284 116h1v38h-1zM285 116h1v31h-1zM286 116h1v32h-1zM287 116h1v26h-1zM288 116h1v23h-1zM289 116h1v16h-1zM290 116h1v31h-1zM291 116h1v33h-1zM292 116h1v21h-1zM293 116h1v22h-1zM294 116h1v27h-1zM295 116h1v27h-1zM296 116h1v26h-1zM297 116h1v26h-1zM298 116h1v31h-1zM299 116h1v39h-1zM300 116h1v33h-1zM301 116h1v36h-1zM302 116h1v28h-1zM303 116h1v36h-1zM304 116h1v30h-1zM305 116h1v39h-1zM306 116h1v32h-1zM307 116h1v34h-1zM308 116h1v40h-1zM309 116h1v39h-1zM310 116h1v34h-1zM311 116h1v24h-1zM312 116h1v24h-1zM313 116h1v25h-1zM314 116h1v31h-1zM315 116h1v30h-1zM316 116h1v47h-1zM317 116h1v41h-1zM318 116h1v39h-1zM319 116h1v35h-1zM320 116h1v40h-1zM321 116h1v41h-1zM322 116h1v37h-1zM323 116h1v40h-1zM324 116h1v46h-1zM325 116h1v48h-1zM326 116h1v41h-1zM327 116h1v51h-1zM328 116h1v40h-1zM329 116h1v40h-1zM330 116h1v37h-1zM331 116h1v35h-1zM332 116h1v12h-1zM348 116h1v3h-1zM349 116h1v18h-1zM350 116h1v35h-1zM351 116h1v33h-1zM352 116h1v23h-1zM353 116h1v41h-1zM354 116h1v60h-1zM355 116h1v66h-1zM356 116h1v59h-1zM360 116h1v20h-1zM360 152h1v29h-1zM361 116h1v54h-1zM362 116h1v57h-1zM363 116h1v58h-1zM364 116h1v70h-1zM365 116h1v68h-1zM366 116h1v68h-1zM367 116h1v75h-1zM368 116h1v74h-1zM369 116h1v40h-1zM370 116h1v52h-1zM371 116h1v73h-1zM372 116h1v46h-1zM373 116h1v42h-1zM374 116h1v36h-1zM375 116h1v41h-1zM376 116h1v31h-1zM377 116h1v51h-1zM378 116h1v45h-1zM379 116h1v44h-1zM380 116h1v41h-1zM381 116h1v34h-1zM382 116h1v41h-1zM383 116h1v32h-1zM384 116h1v34h-1zM385 116h1v38h-1zM386 116h1v39h-1zM387 116h1v59h-1zM388 116h1v56h-1zM389 116h1v36h-1zM409 116h1v9h-1zM410 116h1v58h-1zM411 116h1v82h-1zM412 116h1v58h-1zM413 116h1v69h-1zM414 116h1v63h-1zM415 116h1v36h-1zM422 116h1v5h-1zM423 116h1v40h-1zM424 116h1v53h-1zM425 116h1v7h-1zM510 116h1v38h-1zM513 116h1v8h-1zM514 116h1v45h-1zM515 116h1v88h-1zM516 116h1v120h-1zM517 116h1v116h-1zM518 116h1v114h-1zM519 116h1v108h-1zM520 116h1v122h-1zM521 116h1v138h-1zM522 116h1v131h-1zM523 116h1v123h-1zM524 116h1v88h-1zM525 116h1v86h-1zM526 116h1v117h-1zM527 116h1v103h-1zM528 116h1v125h-1zM529 142h1v157h-1zM530 128h1v153h-1zM531 127h1v144h-1zM532 123h1v158h-1zM533 141h1v168h-1zM534 152h1v162h-1zM535 154h1v174h-1zM536 170h1v246h-1zM537 152h1v252h-1zM538 204h1v212h-1zM539 201h1v215h-1zM540 193h1v206h-1zM541 229h1v203h-1zM542 244h1v194h-1zM543 301h1v154h-1zM544 294h1v161h-1zM545 297h1v155h-1zM546 324h1v135h-1zM547 330h1v128h-1zM548 265h1v181h-1zM549 213h1v209h-1zM550 265h1v173h-1zM551 222h1v170h-1zM552 255h1v171h-1zM553 265h1v162h-1zM554 263h1v174h-1zM555 238h1v169h-1zM556 229h1v182h-1zM557 269h1v167h-1zM558 272h1v165h-1zM559 267h1v166h-1zM560 268h1v143h-1zM561 237h1v141h-1zM562 206h1v138h-1zM563 216h1v130h-1zM564 217h1v128h-1zM565 227h1v119h-1zM566 235h1v111h-1zM567 248h1v109h-1zM568 243h1v96h-1zM569 229h1v102h-1zM570 257h1v89h-1zM571 263h1v121h-1zM572 255h1v119h-1zM573 235h1v100h-1zM574 253h1v108h-1zM575 260h1v130h-1zM576 245h1v131h-1zM577 230h1v111h-1zM578 227h1v114h-1zM579 232h1v109h-1zM580 244h1v103h-1zM581 248h1v111h-1zM582 244h1v129h-1zM583 265h1v115h-1zM584 300h1v165h-1zM585 309h1v127h-1zM586 305h1v126h-1zM587 303h1v115h-1zM588 308h1v118h-1zM589 395h1v270h-1zM590 372h1v291h-1zM591 386h1v278h-1zM592 382h1v283h-1zM593 307h1v252h-1zM594 280h1v181h-1zM595 257h1v397h-1zM596 250h1v404h-1zM597 259h1v392h-1zM598 332h1v325h-1zM599 394h1v269h-1zM600 420h1v245h-1zM601 396h1v282h-1zM602 390h1v374h-1zM603 384h1v372h-1zM604 386h1v378h-1zM605 387h1v352h-1zM606 445h1v319h-1zM607 514h1v250h-1zM608 675h1v87h-1zM609 665h1v96h-1zM610 675h1v86h-1zM611 685h1v78h-1zM612 673h1v88h-1zM613 687h1v74h-1zM614 690h1v71h-1zM615 691h1v73h-1zM616 689h1v75h-1zM617 687h1v77h-1zM618 689h1v75h-1zM619 686h1v78h-1zM620 686h1v77h-1zM621 678h1v85h-1zM622 659h1v104h-1zM623 666h1v98h-1zM624 664h1v100h-1zM625 666h1v98h-1zM626 674h1v90h-1zM627 694h1v70h-1zM628 702h1v62h-1zM629 701h1v63h-1zM630 700h1v64h-1zM631 695h1v69h-1zM632 682h1v82h-1zM633 676h1v88h-1zM634 678h1v86h-1zM635 702h1v62h-1zM636 690h1v74h-1zM637 688h1v76h-1zM638 649h1v115h-1zM639 628h1v136h-1zM640 585h1v179h-1zM641 593h1v167h-1zM642 696h1v68h-1zM643 714h1v50h-1zM644 710h1v54h-1zM645 559h1v167h-1zM646 704h1v60h-1zM647 708h1v56h-1zM648 698h1v66h-1zM649 692h1v72h-1zM650 683h1v81h-1zM651 689h1v75h-1zM652 696h1v68h-1zM653 716h1v48h-1zM654 700h1v64h-1zM655 691h1v73h-1zM656 694h1v70h-1zM657 570h1v152h-1zM658 700h1v64h-1zM659 703h1v61h-1zM660 564h1v154h-1zM661 691h1v73h-1zM662 678h1v86h-1zM663 570h1v131h-1zM664 683h1v81h-1zM665 686h1v78h-1zM666 564h1v129h-1zM667 673h1v91h-1zM668 695h1v69h-1zM669 700h1v64h-1zM670 708h1v56h-1zM671 703h1v61h-1zM672 697h1v67h-1zM673 681h1v83h-1zM674 667h1v97h-1zM675 656h1v108h-1zM676 639h1v125h-1zM677 538h1v145h-1zM678 673h1v91h-1zM679 604h1v160h-1zM680 646h1v118h-1zM681 662h1v102h-1zM682 525h1v239h-1zM683 529h1v235h-1zM684 529h1v235h-1zM685 517h1v247h-1zM686 531h1v233h-1zM687 524h1v240h-1zM688 530h1v234h-1zM689 532h1v232h-1zM690 518h1v246h-1zM691 512h1v252h-1zM692 534h1v230h-1zM693 530h1v234h-1zM694 542h1v222h-1zM695 559h1v205h-1zM696 548h1v216h-1zM697 541h1v223h-1zM698 539h1v225h-1zM699 534h1v230h-1zM700 537h1v227h-1zM701 535h1v229h-1zM702 537h1v227h-1zM703 538h1v226h-1zM704 536h1v228h-1zM705 541h1v223h-1zM706 532h1v232h-1zM707 532h1v232h-1zM708 557h1v207h-1zM709 675h1v89h-1zM710 691h1v73h-1zM711 704h1v60h-1zM712 691h1v73h-1zM713 529h1v235h-1zM714 496h1v268h-1zM715 501h1v263h-1zM716 508h1v256h-1zM717 510h1v254h-1zM718 513h1v251h-1zM719 498h1v266h-1zM720 509h1v255h-1zM721 503h1v261h-1zM722 511h1v253h-1zM723 511h1v253h-1zM724 523h1v241h-1zM725 563h1v201h-1zM726 594h1v170h-1zM727 689h1v75h-1zM728 719h1v45h-1zM729 715h1v49h-1zM730 689h1v75h-1zM731 611h1v153h-1zM732 670h1v94h-1zM733 648h1v116h-1zM734 624h1v140h-1zM735 678h1v86h-1zM736 675h1v89h-1zM737 666h1v98h-1zM738 679h1v85h-1zM739 624h1v140h-1zM740 672h1v92h-1zM741 660h1v104h-1zM742 663h1v68h-1zM742 739h1v25h-1zM743 668h1v55h-1zM743 760h1v4h-1zM744 675h1v46h-1zM744 760h1v4h-1zM745 667h1v58h-1zM745 757h1v7h-1zM746 680h1v38h-1zM746 761h1v3h-1zM747 668h1v59h-1zM747 755h1v9h-1zM748 674h1v90h-1zM749 527h1v86h-1zM749 648h1v116h-1zM750 675h1v89h-1zM751 676h1v88h-1zM752 686h1v78h-1zM753 538h1v75h-1zM753 686h1v78h-1zM754 694h1v70h-1zM755 690h1v35h-1zM755 752h1v12h-1zM756 688h1v30h-1zM756 758h1v6h-1zM757 682h1v36h-1zM757 760h1v4h-1zM758 678h1v43h-1zM758 758h1v6h-1zM759 683h1v35h-1zM759 759h1v5h-1zM760 684h1v35h-1zM760 756h1v8h-1zM761 684h1v35h-1zM761 756h1v8h-1zM762 684h1v33h-1zM762 759h1v5h-1zM763 681h1v37h-1zM763 758h1v6h-1zM764 681h1v36h-1zM764 759h1v5h-1zM765 678h1v42h-1zM765 756h1v8h-1zM766 676h1v44h-1zM766 758h1v6h-1zM767 678h1v42h-1zM767 756h1v8h-1zM768 678h1v40h-1zM768 758h1v6h-1zM769 677h1v43h-1zM769 755h1v9h-1zM770 680h1v38h-1zM770 756h1v8h-1zM771 681h1v35h-1zM771 759h1v5h-1zM772 687h1v27h-1zM772 758h1v6h-1zM773 684h1v30h-1zM773 759h1v5h-1zM774 679h1v38h-1zM774 757h1v7h-1zM775 680h1v37h-1zM775 757h1v7h-1zM776 678h1v38h-1zM776 759h1v5h-1zM777 683h1v31h-1zM777 759h1v5h-1zM778 687h1v24h-1zM778 761h1v3h-1zM779 689h1v20h-1zM779 761h1v3h-1zM780 692h1v16h-1zM780 758h1v6h-1zM781 697h1v6h-1zM781 758h1v6h-1zM782 760h1v4h-1zM783 690h1v16h-1zM783 760h1v4h-1zM784 760h1v4h-1zM785 760h1v4h-1zM786 760h1v4h-1zM787 505h1v87h-1zM787 759h1v5h-1zM788 759h1v5h-1zM789 761h1v3h-1zM790 759h1v5h-1zM791 758h1v6h-1zM792 759h1v5h-1zM793 758h1v6h-1zM794 762h1v2h-1zM795 759h1v5h-1zM796 758h1v6h-1zM797 759h1v5h-1zM798 758h1v6h-1zM799 758h1v6h-1zM800 758h1v6h-1zM801 759h1v5h-1zM802 756h1v8h-1zM803 759h1v5h-1zM804 759h1v5h-1zM805 761h1v3h-1zM806 760h1v4h-1zM807 761h1v3h-1zM808 760h1v4h-1zM809 760h1v4h-1zM810 760h1v4h-1zM811 758h1v6h-1zM812 760h1v4h-1zM813 759h1v5h-1zM814 757h1v7h-1zM815 758h1v6h-1zM816 761h1v3h-1zM817 761h1v3h-1zM818 761h1v3h-1zM819 758h1v6h-1zM820 760h1v4h-1zM821 758h1v6h-1zM822 758h1v6h-1zM823 755h1v9h-1zM824 759h1v5h-1zM825 759h1v5h-1zM826 760h1v4h-1zM827 760h1v4h-1zM828 762h1v2h-1zM829 760h1v4h-1zM830 762h1v2h-1zM831 762h1v2h-1zM832 762h1v2h-1zM833 761h1v3h-1zM834 759h1v5h-1zM835 758h1v6h-1zM836 758h1v6h-1zM837 759h1v5h-1zM838 760h1v4h-1zM839 761h1v3h-1zM840 760h1v4h-1zM841 760h1v4h-1zM842 758h1v6h-1zM843 762h1v2h-1zM844 761h1v3h-1zM845 762h1v2h-1zM846 761h1v3h-1zM847 761h1v3h-1zM848 759h1v5h-1zM849 760h1v4h-1zM850 759h1v5h-1zM851 759h1v5h-1zM852 759h1v5h-1zM853 758h1v6h-1zM854 758h1v6h-1zM855 527h1v43h-1zM855 678h1v33h-1zM855 758h1v6h-1zM856 760h1v4h-1zM857 760h1v4h-1zM858 759h1v5h-1zM859 758h1v6h-1zM860 763h1v1h-1zM861 761h1v3h-1zM862 761h1v3h-1zM863 761h1v3h-1zM864 763h1v1h-1zM865 762h1v2h-1zM866 760h1v4h-1zM867 758h1v6h-1zM868 760h1v4h-1zM869 759h1v5h-1zM870 759h1v5h-1zM871 762h1v2h-1zM872 760h1v4h-1zM873 760h1v4h-1zM874 761h1v3h-1zM875 761h1v3h-1zM876 758h1v6h-1zM877 760h1v4h-1zM878 761h1v3h-1zM879 762h1v2h-1zM880 762h1v2h-1zM881 763h1v1h-1zM882 762h1v2h-1zM883 762h1v2h-1zM884 761h1v3h-1zM885 762h1v2h-1zM886 761h1v3h-1zM887 763h1v1h-1zM888 761h1v3h-1zM889 762h1v2h-1zM890 762h1v2h-1zM891 763h1v1h-1zM892 762h1v2h-1zM893 762h1v2h-1zM894 762h1v2h-1zM895 761h1v3h-1zM896 761h1v3h-1zM897 761h1v3h-1zM898 761h1v3h-1zM899 761h1v3h-1zM900 760h1v4h-1zM901 759h1v5h-1zM902 758h1v6h-1zM904 761h1v3h-1zM905 757h1v7h-1zM906 759h1v5h-1zM907 756h1v8h-1zM908 761h1v3h-1zM909 761h1v3h-1zM910 763h1v1h-1zM911 762h1v2h-1zM912 761h1v3h-1zM913 763h1v1h-1zM914 760h1v4h-1zM915 762h1v2h-1zM917 761h1v3h-1zM920 763h1v1h-1zM921 760h1v4h-1zM922 762h1v2h-1zM926 763h1v1h-1zM928 762h1v2h-1zM929 763h1v1h-1zM930 762h1v2h-1zM931 762h1v2h-1zM939 762h1v2h-1zM940 761h1v3h-1zM941 761h1v3h-1zM942 761h1v3h-1zM943 762h1v2h-1zM944 761h1v3h-1zM945 761h1v3h-1zM946 761h1v3h-1zM948 762h1v2h-1zM950 763h1v1h-1zM951 763h1v1h-1zM956 762h1v2h-1zM957 762h1v2h-1zM958 762h1v2h-1zM963 762h1v2h-1zM964 763h1v1h-1zM965 763h1v1h-1zM966 762h1v2h-1zM967 762h1v2h-1zM970 762h1v2h-1zM977 762h1v2h-1zM978 760h1v4h-1zM979 760h1v4h-1zM980 757h1v7h-1zM981 760h1v4h-1zM982 762h1v2h-1zM984 761h1v3h-1zM985 760h1v4h-1zM986 759h1v5h-1zM987 763h1v1h-1zM990 761h1v3h-1zM991 761h1v3h-1zM992 760h1v4h-1zM993 761h1v3h-1zM997 763h1v1h-1zM998 759h1v5h-1zM999 760h1v4h-1zM1000 759h1v5h-1zM1001 761h1v3h-1zM1002 761h1v3h-1zM1003 762h1v2h-1zM1008 761h1v3h-1zM1009 744h1v20h-1z"/>
<path fill="#00A4FF" d="M191 129h1v40h-1zM192 131h1v38h-1zM193 132h1v41h-1zM194 132h1v38h-1zM195 136h1v33h-1zM196 131h1v38h-1zM197 128h1v38h-1zM198 136h1v33h-1zM199 141h1v29h-1zM200 142h1v27h-1zM201 149h1v26h-1zM202 149h1v25h-1zM203 152h1v47h-1zM204 155h1v70h-1zM205 162h1v76h-1zM206 169h1v78h-1zM207 171h1v86h-1zM208 166h1v95h-1zM209 168h1v94h-1zM210 169h1v94h-1zM211 165h1v92h-1zM212 174h1v98h-1zM213 176h1v93h-1zM214 182h1v109h-1zM215 181h1v104h-1zM216 174h1v121h-1zM217 163h1v118h-1zM218 185h1v107h-1zM219 176h1v134h-1zM220 174h1v117h-1zM221 178h1v112h-1zM222 182h1v107h-1zM223 193h1v107h-1zM224 170h1v128h-1zM225 169h1v123h-1zM226 174h1v126h-1zM227 163h1v132h-1zM228 165h1v116h-1zM229 159h1v131h-1zM230 156h1v136h-1zM231 158h1v140h-1zM232 153h1v135h-1zM233 138h1v130h-1zM234 139h1v147h-1zM235 143h1v127h-1zM236 144h1v126h-1zM237 145h1v137h-1zM238 144h1v118h-1zM239 137h1v112h-1zM240 133h1v114h-1zM241 135h1v115h-1zM242 135h1v120h-1zM243 133h1v111h-1zM244 139h1v111h-1zM245 139h1v116h-1zM246 135h1v117h-1zM247 138h1v116h-1zM248 136h1v117h-1zM249 136h1v108h-1zM250 142h1v125h-1zM251 145h1v130h-1zM252 156h1v116h-1zM253 150h1v124h-1zM254 142h1v127h-1zM255 153h1v114h-1zM256 143h1v112h-1zM257 143h1v105h-1zM258 139h1v104h-1zM259 151h1v109h-1zM260 155h1v106h-1zM261 140h1v112h-1zM262 144h1v120h-1zM263 143h1v116h-1zM264 151h1v115h-1zM265 146h1v121h-1zM266 142h1v113h-1zM267 143h1v115h-1zM268 140h1v125h-1zM269 132h1v131h-1zM270 137h1v143h-1zM271 136h1v143h-1zM272 146h1v128h-1zM273 144h1v131h-1zM274 148h1v133h-1zM275 141h1v127h-1zM276 137h1v132h-1zM277 136h1v135h-1zM278 139h1v128h-1zM279 134h1v132h-1zM280 141h1v133h-1zM281 140h1v130h-1zM282 142h1v113h-1zM283 157h1v110h-1zM284 154h1v117h-1zM285 147h1v118h-1zM286 148h1v121h-1zM287 142h1v120h-1zM288 139h1v118h-1zM289 132h1v116h-1zM290 147h1v118h-1zM291 149h1v110h-1zM292 137h1v111h-1zM293 138h1v114h-1zM294 143h1v119h-1zM295 143h1v108h-1zM296 142h1v121h-1zM297 142h1v116h-1zM298 147h1v115h-1zM299 155h1v110h-1zM300 149h1v113h-1zM301 152h1v105h-1zM302 144h1v107h-1zM303 152h1v111h-1zM304 146h1v115h-1zM305 155h1v112h-1zM306 148h1v122h-1zM307 150h1v116h-1zM308 156h1v124h-1zM309 155h1v126h-1zM310 150h1v128h-1zM311 140h1v141h-1zM312 140h1v119h-1zM313 141h1v120h-1zM314 147h1v120h-1zM315 146h1v124h-1zM316 163h1v109h-1zM317 157h1v125h-1zM318 155h1v124h-1zM319 151h1v121h-1zM320 156h1v121h-1zM321 157h1v132h-1zM322 153h1v112h-1zM323 156h1v122h-1zM324 162h1v119h-1zM325 164h1v117h-1zM326 157h1v131h-1zM327 167h1v120h-1zM328 156h1v121h-1zM329 156h1v120h-1zM330 153h1v122h-1zM331 151h1v111h-1zM332 128h1v115h-1zM347 116h1v129h-1zM348 119h1v128h-1zM349 134h1v154h-1zM350 151h1v167h-1zM351 149h1v166h-1zM352 139h1v158h-1zM353 157h1v161h-1zM354 176h1v154h-1zM355 182h1v151h-1zM356 175h1v151h-1zM357 116h1v197h-1zM358 151h1v163h-1zM359 126h1v209h-1zM360 136h1v16h-1zM360 181h1v169h-1zM361 170h1v162h-1zM362 173h1v150h-1zM363 174h1v140h-1zM364 186h1v138h-1zM365 184h1v142h-1zM366 184h1v149h-1zM367 191h1v144h-1zM368 190h1v155h-1zM369 156h1v174h-1zM370 168h1v165h-1zM371 189h1v144h-1zM372 162h1v176h-1zM373 158h1v178h-1zM374 152h1v184h-1zM375 157h1v192h-1zM376 147h1v189h-1zM377 167h1v180h-1zM378 161h1v176h-1zM379 160h1v172h-1zM380 157h1v176h-1zM381 150h1v158h-1zM382 157h1v181h-1zM383 148h1v194h-1zM384 150h1v180h-1zM385 154h1v183h-1zM386 155h1v164h-1zM387 175h1v176h-1zM388 172h1v185h-1zM389 152h1v170h-1zM401 116h1v5h-1zM402 116h1v55h-1zM403 116h1v34h-1zM408 116h1v119h-1zM409 125h1v194h-1zM410 174h1v202h-1zM411 198h1v185h-1zM412 174h1v190h-1zM413 185h1v165h-1zM414 179h1v176h-1zM415 152h1v168h-1zM416 116h1v85h-1zM417 116h1v24h-1zM418 116h1v87h-1zM419 116h1v70h-1zM420 116h1v142h-1zM421 116h1v170h-1zM422 121h1v163h-1zM423 156h1v172h-1zM424 169h1v161h-1zM425 123h1v173h-1zM426 116h1v146h-1zM427 116h1v112h-1zM430 116h1v32h-1zM431 116h1v66h-1zM432 116h1v153h-1zM433 116h1v139h-1zM510 154h1v127h-1zM511 116h1v161h-1zM512 116h1v160h-1zM513 124h1v153h-1zM514 161h1v118h-1zM515 204h1v82h-1zM516 236h1v73h-1zM517 232h1v79h-1zM518 230h1v82h-1zM519 224h1v90h-1zM520 238h1v91h-1zM521 254h1v106h-1zM522 247h1v124h-1zM523 239h1v124h-1zM524 204h1v143h-1zM525 202h1v141h-1zM526 233h1v137h-1zM527 219h1v149h-1zM528 241h1v141h-1zM529 299h1v120h-1zM530 281h1v131h-1zM531 271h1v148h-1zM532 281h1v133h-1zM533 309h1v124h-1zM534 314h1v120h-1zM535 328h1v126h-1zM536 416h1v245h-1zM537 404h1v256h-1zM538 416h1v249h-1zM539 416h1v252h-1zM540 399h1v267h-1zM541 432h1v235h-1zM542 438h1v228h-1zM543 455h1v212h-1zM544 455h1v211h-1zM545 452h1v214h-1zM546 459h1v208h-1zM546 719h1v43h-1zM547 458h1v214h-1zM547 685h1v77h-1zM548 446h1v309h-1zM549 422h1v242h-1zM549 711h1v47h-1zM550 438h1v226h-1zM550 711h1v52h-1zM551 392h1v271h-1zM551 733h1v20h-1zM552 426h1v245h-1zM552 727h1v24h-1zM553 427h1v239h-1zM553 733h1v18h-1zM554 437h1v230h-1zM554 727h1v33h-1zM555 407h1v257h-1zM555 738h1v9h-1zM556 411h1v254h-1zM556 727h1v33h-1zM557 436h1v238h-1zM557 721h1v42h-1zM558 437h1v228h-1zM558 729h1v29h-1zM559 433h1v240h-1zM559 724h1v36h-1zM560 411h1v263h-1zM560 721h1v42h-1zM561 378h1v287h-1zM561 730h1v28h-1zM562 344h1v320h-1zM562 737h1v11h-1zM563 346h1v317h-1zM563 733h1v23h-1zM564 345h1v312h-1zM565 346h1v316h-1zM566 346h1v317h-1zM567 357h1v307h-1zM567 738h1v9h-1zM568 339h1v330h-1zM568 735h1v14h-1zM569 331h1v329h-1zM570 346h1v321h-1zM570 728h1v31h-1zM571 384h1v286h-1zM571 725h1v35h-1zM572 374h1v291h-1zM572 727h1v34h-1zM573 335h1v328h-1zM573 737h1v13h-1zM574 361h1v302h-1zM574 731h1v30h-1zM575 390h1v278h-1zM575 726h1v36h-1zM576 376h1v293h-1zM576 735h1v14h-1zM577 341h1v321h-1zM578 341h1v324h-1zM579 341h1v324h-1zM580 347h1v325h-1zM581 359h1v404h-1zM582 373h1v391h-1zM583 380h1v384h-1zM584 465h1v299h-1zM585 436h1v328h-1zM586 431h1v333h-1zM587 418h1v346h-1zM588 426h1v338h-1zM589 665h1v99h-1zM590 663h1v101h-1zM591 664h1v100h-1zM592 665h1v99h-1zM593 559h1v205h-1zM594 461h1v303h-1zM595 654h1v110h-1zM596 654h1v110h-1zM597 651h1v113h-1zM598 657h1v107h-1zM599 663h1v101h-1zM600 665h1v99h-1zM601 678h1v86h-1zM603 756h1v8h-1zM605 739h1v25h-1zM608 762h1v2h-1zM609 761h1v3h-1zM610 761h1v3h-1zM611 763h1v1h-1zM612 761h1v3h-1zM613 761h1v3h-1zM614 761h1v3h-1zM620 763h1v1h-1zM621 763h1v1h-1zM622 763h1v1h-1zM641 760h1v4h-1zM645 726h1v38h-1zM657 722h1v42h-1zM660 718h1v46h-1zM663 701h1v63h-1zM666 693h1v71h-1zM677 683h1v81h-1z"/>
<path fill="#00EDFF" d="M180 116h1v26h-1zM181 116h1v33h-1zM182 116h1v33h-1zM183 116h1v21h-1zM184 116h1v26h-1zM185 116h1v31h-1zM186 116h1v27h-1zM187 116h1v5h-1zM188 116h1v43h-1zM189 116h1v158h-1zM190 116h1v152h-1zM191 169h1v103h-1zM192 169h1v113h-1zM193 173h1v106h-1zM194 170h1v101h-1zM195 169h1v63h-1zM196 169h1v69h-1zM197 166h1v69h-1zM198 169h1v68h-1zM199 170h1v65h-1zM200 169h1v66h-1zM201 175h1v63h-1zM202 174h1v64h-1zM203 199h1v60h-1zM204 225h1v55h-1zM205 238h1v55h-1zM206 247h1v59h-1zM207 257h1v65h-1zM208 261h1v116h-1zM209 262h1v116h-1zM210 263h1v118h-1zM211 257h1v127h-1zM212 272h1v126h-1zM213 269h1v132h-1zM214 291h1v116h-1zM215 285h1v104h-1zM216 295h1v91h-1zM217 281h1v110h-1zM218 292h1v105h-1zM219 310h1v102h-1zM220 291h1v115h-1zM221 290h1v131h-1zM222 289h1v102h-1zM223 300h1v95h-1zM224 298h1v106h-1zM225 292h1v102h-1zM226 300h1v121h-1zM227 295h1v122h-1zM228 281h1v128h-1zM229 290h1v112h-1zM230 292h1v110h-1zM231 298h1v107h-1zM232 288h1v106h-1zM233 268h1v105h-1zM234 286h1v137h-1zM235 270h1v117h-1zM236 270h1v112h-1zM237 282h1v97h-1zM238 262h1v90h-1zM239 249h1v109h-1zM240 247h1v111h-1zM241 250h1v110h-1zM242 255h1v109h-1zM243 244h1v124h-1zM244 250h1v126h-1zM245 255h1v114h-1zM246 252h1v109h-1zM247 254h1v94h-1zM248 253h1v93h-1zM249 244h1v104h-1zM250 267h1v88h-1zM251 275h1v88h-1zM252 272h1v109h-1zM253 274h1v103h-1zM254 269h1v106h-1zM255 267h1v108h-1zM256 255h1v106h-1zM257 248h1v112h-1zM258 243h1v106h-1zM259 260h1v107h-1zM260 261h1v91h-1zM261 252h1v108h-1zM262 264h1v106h-1zM263 259h1v115h-1zM264 266h1v117h-1zM265 267h1v108h-1zM266 255h1v108h-1zM267 258h1v91h-1zM268 265h1v86h-1zM269 263h1v81h-1zM270 280h1v76h-1zM271 279h1v73h-1zM272 274h1v90h-1zM273 275h1v87h-1zM274 281h1v110h-1zM275 268h1v119h-1zM276 269h1v123h-1zM277 271h1v96h-1zM278 267h1v107h-1zM279 266h1v100h-1zM280 274h1v96h-1zM281 270h1v118h-1zM282 255h1v108h-1zM283 267h1v117h-1zM284 271h1v133h-1zM285 265h1v126h-1zM286 269h1v128h-1zM287 262h1v116h-1zM288 257h1v115h-1zM289 248h1v111h-1zM290 265h1v114h-1zM291 259h1v99h-1zM292 248h1v105h-1zM293 252h1v113h-1zM294 262h1v116h-1zM295 251h1v117h-1zM296 263h1v98h-1zM297 258h1v102h-1zM298 262h1v108h-1zM299 265h1v125h-1zM300 262h1v98h-1zM301 257h1v123h-1zM302 251h1v120h-1zM303 263h1v114h-1zM304 261h1v125h-1zM305 267h1v105h-1zM306 270h1v99h-1zM307 266h1v104h-1zM308 280h1v83h-1zM309 281h1v99h-1zM310 278h1v110h-1zM311 281h1v103h-1zM312 259h1v121h-1zM313 261h1v117h-1zM314 267h1v124h-1zM315 270h1v116h-1zM316 272h1v123h-1zM317 282h1v130h-1zM318 279h1v127h-1zM319 272h1v132h-1zM320 277h1v134h-1zM321 289h1v151h-1zM322 265h1v127h-1zM323 278h1v145h-1zM324 281h1v137h-1zM325 281h1v106h-1zM326 288h1v96h-1zM327 287h1v103h-1zM328 277h1v112h-1zM329 276h1v110h-1zM330 275h1v113h-1zM331 262h1v123h-1zM332 243h1v120h-1zM333 116h1v87h-1zM335 116h1v46h-1zM336 116h1v58h-1zM337 116h1v41h-1zM339 116h1v141h-1zM340 116h1v131h-1zM346 116h1v156h-1zM347 245h1v92h-1zM348 247h1v99h-1zM349 288h1v98h-1zM350 318h1v105h-1zM351 315h1v106h-1zM352 297h1v122h-1zM353 318h1v102h-1zM354 330h1v106h-1zM355 333h1v96h-1zM356 326h1v100h-1zM357 313h1v113h-1zM358 116h1v35h-1zM358 314h1v127h-1zM359 116h1v10h-1zM359 335h1v99h-1zM360 350h1v82h-1zM361 332h1v89h-1zM362 323h1v99h-1zM363 314h1v94h-1zM364 324h1v95h-1zM365 326h1v93h-1zM366 333h1v91h-1zM367 335h1v96h-1zM368 345h1v87h-1zM369 330h1v97h-1zM370 333h1v94h-1zM371 333h1v94h-1zM372 338h1v91h-1zM373 336h1v93h-1zM374 336h1v109h-1zM375 349h1v93h-1zM376 336h1v95h-1zM377 347h1v102h-1zM378 337h1v100h-1zM379 332h1v123h-1zM380 333h1v116h-1zM381 308h1v129h-1zM382 338h1v122h-1zM383 342h1v134h-1zM384 330h1v128h-1zM385 337h1v108h-1zM386 319h1v121h-1zM387 351h1v99h-1zM388 357h1v82h-1zM389 322h1v106h-1zM390 116h1v112h-1zM394 116h1v15h-1zM395 116h1v35h-1zM398 116h1v46h-1zM399 116h1v85h-1zM400 116h1v107h-1zM401 121h1v148h-1zM402 171h1v199h-1zM403 150h1v153h-1zM404 116h1v141h-1zM405 116h1v133h-1zM406 116h1v102h-1zM407 116h1v106h-1zM408 235h1v186h-1zM409 319h1v137h-1zM410 376h1v97h-1zM411 383h1v89h-1zM412 364h1v108h-1zM413 350h1v119h-1zM414 355h1v115h-1zM415 320h1v138h-1zM416 201h1v232h-1zM417 140h1v284h-1zM418 203h1v260h-1zM419 186h1v276h-1zM420 258h1v171h-1zM421 286h1v135h-1zM422 284h1v144h-1zM423 328h1v135h-1zM424 330h1v135h-1zM425 296h1v136h-1zM426 262h1v149h-1zM427 228h1v161h-1zM428 116h1v152h-1zM429 116h1v220h-1zM430 148h1v253h-1zM431 182h1v243h-1zM432 269h1v168h-1zM433 255h1v176h-1zM434 116h1v169h-1zM435 116h1v120h-1zM436 116h1v107h-1zM437 116h1v155h-1zM438 116h1v176h-1zM439 116h1v139h-1zM440 116h1v122h-1zM441 116h1v106h-1zM442 116h1v141h-1zM443 116h1v118h-1zM444 116h1v135h-1zM445 116h1v155h-1zM446 116h1v124h-1zM447 116h1v30h-1zM503 116h1v57h-1zM504 116h1v72h-1zM505 116h1v74h-1zM506 116h1v106h-1zM507 116h1v178h-1zM508 116h1v131h-1zM509 116h1v109h-1zM510 281h1v49h-1zM511 277h1v39h-1zM512 276h1v36h-1zM513 277h1v42h-1zM514 279h1v53h-1zM515 286h1v99h-1zM516 309h1v101h-1zM517 311h1v99h-1zM518 312h1v102h-1zM519 314h1v96h-1zM519 752h1v12h-1zM520 329h1v92h-1zM520 740h1v24h-1zM521 360h1v111h-1zM521 726h1v38h-1zM522 371h1v98h-1zM522 718h1v46h-1zM523 363h1v95h-1zM523 717h1v47h-1zM524 347h1v97h-1zM524 720h1v44h-1zM525 343h1v129h-1zM525 742h1v22h-1zM526 370h1v166h-1zM526 654h1v110h-1zM527 368h1v197h-1zM527 622h1v142h-1zM528 382h1v382h-1zM529 419h1v345h-1zM530 412h1v352h-1zM531 419h1v345h-1zM532 414h1v350h-1zM533 433h1v331h-1zM534 434h1v330h-1zM535 454h1v310h-1zM536 661h1v103h-1zM537 660h1v104h-1zM538 665h1v99h-1zM539 668h1v96h-1zM540 666h1v98h-1zM541 667h1v97h-1zM542 666h1v98h-1zM543 667h1v97h-1zM544 666h1v98h-1zM545 666h1v98h-1zM546 667h1v52h-1zM546 762h1v2h-1zM547 672h1v13h-1zM547 762h1v2h-1zM548 755h1v9h-1zM549 664h1v47h-1zM549 758h1v6h-1zM550 664h1v47h-1zM550 763h1v1h-1zM551 663h1v70h-1zM551 753h1v11h-1zM552 671h1v56h-1zM552 751h1v13h-1zM553 666h1v67h-1zM553 751h1v13h-1zM554 667h1v60h-1zM554 760h1v4h-1zM555 664h1v74h-1zM555 747h1v17h-1zM556 665h1v62h-1zM556 760h1v4h-1zM557 674h1v47h-1zM557 763h1v1h-1zM558 665h1v64h-1zM558 758h1v6h-1zM559 673h1v51h-1zM559 760h1v4h-1zM560 674h1v47h-1zM560 763h1v1h-1zM561 665h1v65h-1zM561 758h1v6h-1zM562 664h1v73h-1zM562 748h1v16h-1zM563 663h1v70h-1zM563 756h1v8h-1zM564 657h1v107h-1zM565 662h1v102h-1zM566 663h1v101h-1zM567 664h1v74h-1zM567 747h1v17h-1zM568 669h1v66h-1zM568 749h1v15h-1zM569 660h1v104h-1zM570 667h1v61h-1zM570 759h1v5h-1zM571 670h1v55h-1zM571 760h1v4h-1zM572 665h1v62h-1zM572 761h1v3h-1zM573 663h1v74h-1zM573 750h1v14h-1zM574 663h1v68h-1zM574 761h1v3h-1zM575 668h1v58h-1zM575 762h1v2h-1zM576 669h1v66h-1zM576 749h1v15h-1zM577 662h1v102h-1zM578 665h1v99h-1zM579 665h1v99h-1zM580 672h1v92h-1zM581 763h1v1h-1z"/>
<path fill="#36FFC8" d="M180 142h1v61h-1zM181 149h1v94h-1zM182 149h1v119h-1zM183 137h1v134h-1zM184 142h1v129h-1zM185 147h1v129h-1zM186 143h1v137h-1zM187 121h1v160h-1zM188 159h1v122h-1zM189 274h1v52h-1zM190 268h1v24h-1zM191 272h1v27h-1zM192 282h1v21h-1zM193 279h1v21h-1zM194 271h1v28h-1zM195 232h1v30h-1zM196 238h1v27h-1zM197 235h1v31h-1zM198 237h1v29h-1zM199 235h1v30h-1zM200 235h1v31h-1zM201 238h1v30h-1zM202 238h1v35h-1zM203 259h1v33h-1zM204 280h1v29h-1zM205 293h1v24h-1zM206 306h1v27h-1zM207 322h1v51h-1zM208 377h1v27h-1zM209 378h1v54h-1zM210 381h1v71h-1zM211 384h1v84h-1zM212 398h1v93h-1zM213 401h1v105h-1zM214 407h1v107h-1zM215 389h1v132h-1zM216 386h1v152h-1zM217 391h1v127h-1zM218 397h1v144h-1zM219 412h1v142h-1zM220 406h1v158h-1zM221 421h1v127h-1zM222 391h1v162h-1zM223 395h1v153h-1zM224 404h1v145h-1zM225 394h1v139h-1zM226 421h1v145h-1zM227 417h1v131h-1zM228 409h1v132h-1zM229 402h1v126h-1zM230 402h1v132h-1zM231 405h1v138h-1zM232 394h1v153h-1zM233 373h1v152h-1zM234 423h1v113h-1zM235 387h1v166h-1zM236 382h1v162h-1zM237 379h1v146h-1zM238 352h1v194h-1zM239 358h1v187h-1zM240 358h1v173h-1zM241 360h1v149h-1zM242 364h1v149h-1zM243 368h1v140h-1zM244 376h1v159h-1zM245 369h1v147h-1zM246 361h1v151h-1zM247 348h1v183h-1zM248 346h1v171h-1zM249 348h1v176h-1zM250 355h1v196h-1zM251 363h1v191h-1zM252 381h1v179h-1zM253 377h1v182h-1zM254 375h1v186h-1zM255 375h1v186h-1zM256 361h1v170h-1zM257 360h1v161h-1zM258 349h1v157h-1zM259 367h1v163h-1zM260 352h1v200h-1zM261 360h1v200h-1zM262 370h1v193h-1zM263 374h1v181h-1zM264 383h1v179h-1zM265 375h1v170h-1zM266 363h1v169h-1zM267 349h1v182h-1zM268 351h1v178h-1zM269 344h1v190h-1zM270 356h1v194h-1zM271 352h1v202h-1zM272 364h1v186h-1zM273 362h1v162h-1zM274 391h1v148h-1zM275 387h1v131h-1zM276 392h1v145h-1zM277 367h1v165h-1zM278 374h1v140h-1zM279 366h1v162h-1zM280 370h1v174h-1zM281 388h1v152h-1zM282 363h1v187h-1zM283 384h1v187h-1zM284 404h1v167h-1zM285 391h1v159h-1zM286 397h1v149h-1zM287 378h1v150h-1zM288 372h1v165h-1zM289 359h1v152h-1zM290 379h1v170h-1zM291 358h1v175h-1zM292 353h1v174h-1zM293 365h1v176h-1zM294 378h1v169h-1zM295 368h1v194h-1zM296 361h1v180h-1zM297 360h1v167h-1zM298 370h1v192h-1zM299 390h1v166h-1zM300 360h1v147h-1zM301 380h1v169h-1zM302 371h1v142h-1zM303 377h1v169h-1zM304 386h1v162h-1zM305 372h1v190h-1zM306 369h1v160h-1zM307 370h1v159h-1zM308 363h1v170h-1zM309 380h1v169h-1zM310 388h1v149h-1zM311 384h1v150h-1zM312 380h1v165h-1zM313 378h1v178h-1zM314 391h1v169h-1zM315 386h1v186h-1zM316 395h1v168h-1zM317 412h1v139h-1zM318 406h1v136h-1zM319 404h1v139h-1zM320 411h1v127h-1zM321 440h1v118h-1zM322 392h1v156h-1zM323 423h1v151h-1zM324 418h1v154h-1zM325 387h1v177h-1zM326 384h1v166h-1zM327 390h1v169h-1zM328 389h1v166h-1zM329 386h1v163h-1zM330 388h1v166h-1zM331 385h1v168h-1zM332 363h1v162h-1zM333 203h1v129h-1zM334 116h1v175h-1zM335 162h1v163h-1zM336 174h1v159h-1zM337 157h1v170h-1zM338 116h1v179h-1zM339 257h1v163h-1zM340 247h1v137h-1zM341 116h1v135h-1zM342 116h1v159h-1zM343 116h1v154h-1zM344 116h1v156h-1zM345 116h1v132h-1zM346 272h1v79h-1zM347 337h1v68h-1zM348 346h1v62h-1zM349 386h1v59h-1zM350 423h1v34h-1zM351 421h1v34h-1zM352 419h1v33h-1zM353 420h1v38h-1zM354 436h1v49h-1zM355 429h1v54h-1zM356 426h1v56h-1zM357 426h1v65h-1zM358 441h1v57h-1zM358 625h1v74h-1zM359 434h1v69h-1zM359 623h1v84h-1zM360 432h1v45h-1zM361 421h1v43h-1zM362 422h1v43h-1zM363 408h1v50h-1zM364 419h1v43h-1zM365 419h1v44h-1zM366 424h1v41h-1zM367 431h1v38h-1zM368 432h1v38h-1zM369 427h1v74h-1zM370 427h1v330h-1zM371 427h1v326h-1zM372 429h1v332h-1zM373 429h1v324h-1zM374 445h1v316h-1zM375 442h1v319h-1zM376 431h1v332h-1zM377 449h1v314h-1zM378 437h1v324h-1zM379 455h1v308h-1zM380 449h1v312h-1zM381 437h1v316h-1zM382 460h1v301h-1zM383 476h1v286h-1zM384 458h1v303h-1zM385 445h1v319h-1zM386 440h1v319h-1zM387 450h1v310h-1zM388 439h1v322h-1zM389 428h1v333h-1zM390 228h1v235h-1zM390 588h1v176h-1zM391 116h1v63h-1zM391 605h1v159h-1zM392 116h1v57h-1zM392 607h1v157h-1zM393 116h1v139h-1zM393 601h1v163h-1zM394 131h1v160h-1zM394 686h1v78h-1zM395 151h1v124h-1zM395 756h1v8h-1zM396 116h1v75h-1zM397 116h1v68h-1zM398 162h1v195h-1zM398 761h1v3h-1zM399 201h1v281h-1zM399 761h1v3h-1zM400 223h1v281h-1zM400 761h1v3h-1zM401 269h1v235h-1zM401 749h1v15h-1zM402 370h1v135h-1zM402 743h1v21h-1zM403 303h1v201h-1zM403 750h1v14h-1zM404 257h1v246h-1zM404 745h1v19h-1zM405 249h1v255h-1zM405 745h1v19h-1zM406 218h1v257h-1zM406 761h1v3h-1zM407 222h1v244h-1zM407 760h1v4h-1zM408 421h1v68h-1zM408 748h1v16h-1zM409 456h1v34h-1zM409 754h1v10h-1zM410 473h1v26h-1zM410 731h1v33h-1zM411 472h1v26h-1zM411 752h1v12h-1zM412 472h1v27h-1zM412 760h1v4h-1zM413 469h1v28h-1zM413 760h1v4h-1zM414 470h1v28h-1zM414 746h1v18h-1zM415 458h1v36h-1zM415 744h1v20h-1zM416 433h1v60h-1zM416 753h1v11h-1zM417 424h1v65h-1zM417 759h1v5h-1zM418 463h1v33h-1zM418 749h1v15h-1zM419 462h1v33h-1zM419 761h1v3h-1zM420 429h1v64h-1zM420 762h1v2h-1zM421 421h1v66h-1zM421 762h1v2h-1zM422 428h1v60h-1zM422 762h1v2h-1zM423 463h1v32h-1zM423 755h1v9h-1zM424 465h1v31h-1zM424 748h1v16h-1zM425 432h1v60h-1zM425 761h1v3h-1zM426 411h1v80h-1zM426 760h1v4h-1zM427 389h1v94h-1zM428 268h1v186h-1zM429 336h1v176h-1zM429 750h1v14h-1zM430 401h1v109h-1zM430 750h1v14h-1zM431 425h1v86h-1zM431 743h1v21h-1zM432 437h1v74h-1zM432 736h1v28h-1zM433 431h1v79h-1zM433 742h1v22h-1zM434 285h1v186h-1zM434 761h1v3h-1zM435 236h1v162h-1zM435 762h1v2h-1zM436 223h1v146h-1zM436 763h1v1h-1zM437 271h1v192h-1zM437 762h1v2h-1zM438 292h1v178h-1zM438 761h1v3h-1zM439 255h1v225h-1zM439 761h1v3h-1zM440 238h1v240h-1zM440 757h1v7h-1zM441 222h1v227h-1zM441 763h1v1h-1zM442 257h1v249h-1zM442 754h1v10h-1zM443 234h1v256h-1zM443 760h1v4h-1zM444 251h1v246h-1zM444 748h1v16h-1zM445 271h1v235h-1zM445 735h1v29h-1zM446 240h1v263h-1zM446 755h1v9h-1zM447 146h1v131h-1zM447 437h1v35h-1zM447 760h1v4h-1zM448 116h1v90h-1zM448 760h1v4h-1zM449 116h1v57h-1zM449 762h1v2h-1zM450 116h1v53h-1zM450 762h1v2h-1zM451 116h1v30h-1zM451 761h1v3h-1zM452 762h1v2h-1zM453 762h1v2h-1zM454 760h1v4h-1zM455 761h1v3h-1zM456 759h1v5h-1zM483 644h1v49h-1zM484 628h1v70h-1zM485 625h1v74h-1zM486 623h1v75h-1zM487 626h1v66h-1zM488 599h1v96h-1zM489 568h1v131h-1zM490 116h1v24h-1zM490 562h1v149h-1zM491 116h1v95h-1zM491 426h1v17h-1zM491 559h1v162h-1zM492 116h1v98h-1zM492 358h1v88h-1zM492 560h1v159h-1zM493 116h1v85h-1zM493 566h1v142h-1zM494 116h1v2h-1zM494 587h1v111h-1zM495 116h1v30h-1zM495 604h1v96h-1zM496 116h1v92h-1zM496 356h1v31h-1zM496 614h1v104h-1zM497 116h1v116h-1zM497 383h1v58h-1zM497 649h1v115h-1zM498 116h1v130h-1zM498 720h1v44h-1zM499 116h1v147h-1zM499 725h1v39h-1zM500 116h1v153h-1zM500 734h1v30h-1zM501 116h1v159h-1zM501 726h1v38h-1zM502 116h1v162h-1zM502 728h1v36h-1zM503 173h1v158h-1zM503 731h1v33h-1zM504 188h1v118h-1zM504 731h1v33h-1zM505 190h1v165h-1zM505 726h1v38h-1zM506 222h1v222h-1zM506 728h1v36h-1zM507 294h1v161h-1zM507 730h1v34h-1zM508 247h1v198h-1zM508 727h1v37h-1zM509 225h1v217h-1zM509 727h1v37h-1zM510 330h1v126h-1zM510 722h1v42h-1zM511 316h1v135h-1zM511 722h1v42h-1zM512 312h1v140h-1zM512 726h1v38h-1zM513 319h1v134h-1zM513 723h1v41h-1zM514 332h1v127h-1zM514 731h1v33h-1zM515 385h1v90h-1zM515 720h1v44h-1zM516 410h1v82h-1zM516 708h1v56h-1zM517 410h1v83h-1zM517 694h1v70h-1zM518 414h1v92h-1zM518 683h1v81h-1zM519 410h1v100h-1zM519 670h1v82h-1zM520 421h1v104h-1zM520 648h1v92h-1zM521 471h1v87h-1zM521 622h1v104h-1zM522 469h1v101h-1zM522 604h1v114h-1zM523 458h1v259h-1zM524 444h1v276h-1zM525 472h1v270h-1zM526 536h1v118h-1zM527 565h1v57h-1z"/>
<path fill="#7FFF7F" d="M180 203h1v287h-1zM181 243h1v257h-1zM182 268h1v56h-1zM182 346h1v147h-1zM183 271h1v52h-1zM183 369h1v123h-1zM184 271h1v55h-1zM184 352h1v139h-1zM185 276h1v215h-1zM186 280h1v210h-1zM187 281h1v47h-1zM187 358h1v92h-1zM188 281h1v209h-1zM189 326h1v173h-1zM190 292h1v83h-1zM191 299h1v32h-1zM192 303h1v30h-1zM193 300h1v33h-1zM194 299h1v33h-1zM195 262h1v18h-1zM196 265h1v18h-1zM197 266h1v18h-1zM198 266h1v18h-1zM199 265h1v18h-1zM200 266h1v19h-1zM201 268h1v21h-1zM202 273h1v27h-1zM203 292h1v25h-1zM204 309h1v28h-1zM205 317h1v26h-1zM206 333h1v59h-1zM207 373h1v59h-1zM208 404h1v58h-1zM209 432h1v46h-1zM210 452h1v43h-1zM211 468h1v50h-1zM212 491h1v48h-1zM213 506h1v168h-1zM214 514h1v136h-1zM215 521h1v131h-1zM216 538h1v123h-1zM217 518h1v132h-1zM218 541h1v151h-1zM219 554h1v128h-1zM220 564h1v105h-1zM221 548h1v128h-1zM222 553h1v130h-1zM223 548h1v145h-1zM224 549h1v125h-1zM225 533h1v130h-1zM226 566h1v104h-1zM227 548h1v119h-1zM228 541h1v119h-1zM229 528h1v132h-1zM230 534h1v133h-1zM231 543h1v125h-1zM232 547h1v114h-1zM233 525h1v128h-1zM234 536h1v154h-1zM235 553h1v148h-1zM236 544h1v131h-1zM237 525h1v153h-1zM238 546h1v129h-1zM239 545h1v131h-1zM240 531h1v153h-1zM241 509h1v151h-1zM242 513h1v145h-1zM243 508h1v134h-1zM244 535h1v125h-1zM245 516h1v145h-1zM246 512h1v153h-1zM247 531h1v170h-1zM248 517h1v175h-1zM249 524h1v208h-1zM250 551h1v172h-1zM251 554h1v145h-1zM252 560h1v169h-1zM253 559h1v142h-1zM254 561h1v119h-1zM255 561h1v130h-1zM256 531h1v152h-1zM257 521h1v144h-1zM258 506h1v139h-1zM259 530h1v147h-1zM260 552h1v125h-1zM261 560h1v114h-1zM262 563h1v127h-1zM263 555h1v131h-1zM264 562h1v149h-1zM265 545h1v139h-1zM266 532h1v151h-1zM267 531h1v131h-1zM268 529h1v145h-1zM269 534h1v128h-1zM270 550h1v124h-1zM271 554h1v114h-1zM272 550h1v130h-1zM273 524h1v135h-1zM274 539h1v151h-1zM275 518h1v171h-1zM276 537h1v158h-1zM277 532h1v126h-1zM278 514h1v170h-1zM279 528h1v173h-1zM280 544h1v167h-1zM281 540h1v218h-1zM282 550h1v187h-1zM283 571h1v186h-1zM284 571h1v180h-1zM285 550h1v206h-1zM286 546h1v213h-1zM287 528h1v228h-1zM288 537h1v219h-1zM289 511h1v194h-1zM290 549h1v207h-1zM291 533h1v193h-1zM292 527h1v180h-1zM293 541h1v152h-1zM294 547h1v166h-1zM295 562h1v128h-1zM296 541h1v152h-1zM297 527h1v155h-1zM298 562h1v110h-1zM299 556h1v138h-1zM300 507h1v188h-1zM301 549h1v144h-1zM302 513h1v168h-1zM303 546h1v153h-1zM304 548h1v143h-1zM305 562h1v135h-1zM305 715h1v42h-1zM306 529h1v142h-1zM306 729h1v24h-1zM307 529h1v139h-1zM307 730h1v24h-1zM308 533h1v133h-1zM308 731h1v22h-1zM309 549h1v131h-1zM309 726h1v30h-1zM310 537h1v133h-1zM310 732h1v18h-1zM311 534h1v138h-1zM311 727h1v30h-1zM312 545h1v109h-1zM312 735h1v16h-1zM313 556h1v108h-1zM313 728h1v31h-1zM314 560h1v126h-1zM314 722h1v36h-1zM315 572h1v118h-1zM315 716h1v47h-1zM316 563h1v197h-1zM317 551h1v213h-1zM318 542h1v220h-1zM319 543h1v216h-1zM320 538h1v222h-1zM321 558h1v205h-1zM322 548h1v215h-1zM323 574h1v187h-1zM324 572h1v192h-1zM325 564h1v195h-1zM326 550h1v214h-1zM327 559h1v205h-1zM328 555h1v208h-1zM329 549h1v209h-1zM330 554h1v205h-1zM331 553h1v183h-1zM332 525h1v208h-1zM333 332h1v150h-1zM334 291h1v144h-1zM335 325h1v160h-1zM336 333h1v136h-1zM337 327h1v140h-1zM338 295h1v120h-1zM339 420h1v61h-1zM340 384h1v85h-1zM341 251h1v91h-1zM342 275h1v83h-1zM343 270h1v101h-1zM344 272h1v116h-1zM345 248h1v99h-1zM346 351h1v76h-1zM347 405h1v55h-1zM348 408h1v54h-1zM349 445h1v39h-1zM350 457h1v33h-1zM351 455h1v34h-1zM352 452h1v34h-1zM353 458h1v39h-1zM354 485h1v40h-1zM355 483h1v43h-1zM356 482h1v43h-1zM357 491h1v273h-1zM358 498h1v127h-1zM358 699h1v65h-1zM359 503h1v120h-1zM359 707h1v57h-1zM360 477h1v35h-1zM360 685h1v30h-1zM361 464h1v32h-1zM362 465h1v31h-1zM363 458h1v33h-1zM364 462h1v31h-1zM365 463h1v32h-1zM366 465h1v31h-1zM367 469h1v31h-1zM368 470h1v39h-1zM369 501h1v263h-1zM370 757h1v7h-1zM371 753h1v11h-1zM372 761h1v3h-1zM373 753h1v11h-1zM374 761h1v3h-1zM375 761h1v3h-1zM376 763h1v1h-1zM377 763h1v1h-1zM378 761h1v3h-1zM379 763h1v1h-1zM380 761h1v3h-1zM381 753h1v11h-1zM382 761h1v3h-1zM383 762h1v2h-1zM384 761h1v3h-1zM386 759h1v5h-1zM387 760h1v4h-1zM388 761h1v3h-1zM389 761h1v3h-1zM390 463h1v125h-1zM391 179h1v177h-1zM391 390h1v154h-1zM391 572h1v33h-1zM392 173h1v174h-1zM392 400h1v144h-1zM392 572h1v35h-1zM393 255h1v346h-1zM394 291h1v229h-1zM394 587h1v99h-1zM395 275h1v235h-1zM395 649h1v107h-1zM396 191h1v150h-1zM396 408h1v82h-1zM396 661h1v103h-1zM397 184h1v150h-1zM397 436h1v61h-1zM397 656h1v108h-1zM398 357h1v159h-1zM398 654h1v107h-1zM399 482h1v34h-1zM399 654h1v107h-1zM400 504h1v13h-1zM400 656h1v105h-1zM401 504h1v12h-1zM401 653h1v96h-1zM402 505h1v12h-1zM402 652h1v91h-1zM403 504h1v12h-1zM403 673h1v77h-1zM404 503h1v14h-1zM404 662h1v83h-1zM405 504h1v13h-1zM405 661h1v84h-1zM406 475h1v40h-1zM406 669h1v92h-1zM407 466h1v48h-1zM407 664h1v96h-1zM408 489h1v22h-1zM408 654h1v94h-1zM409 490h1v19h-1zM409 658h1v96h-1zM410 499h1v17h-1zM410 648h1v83h-1zM411 498h1v17h-1zM411 652h1v100h-1zM412 499h1v19h-1zM412 659h1v101h-1zM413 497h1v16h-1zM413 656h1v104h-1zM414 498h1v18h-1zM414 655h1v91h-1zM415 494h1v17h-1zM415 656h1v88h-1zM416 493h1v18h-1zM416 662h1v91h-1zM417 489h1v20h-1zM417 663h1v96h-1zM418 496h1v16h-1zM418 653h1v96h-1zM419 495h1v16h-1zM419 656h1v105h-1zM420 493h1v20h-1zM420 687h1v75h-1zM421 487h1v21h-1zM421 696h1v66h-1zM422 488h1v21h-1zM422 676h1v86h-1zM423 495h1v18h-1zM423 686h1v69h-1zM424 496h1v18h-1zM424 658h1v90h-1zM425 492h1v20h-1zM425 653h1v108h-1zM426 491h1v23h-1zM426 654h1v106h-1zM427 483h1v28h-1zM427 654h1v110h-1zM428 454h1v70h-1zM428 664h1v100h-1zM429 512h1v53h-1zM429 624h1v126h-1zM430 510h1v39h-1zM430 634h1v116h-1zM431 511h1v48h-1zM431 621h1v122h-1zM432 511h1v37h-1zM432 629h1v107h-1zM433 510h1v39h-1zM433 631h1v111h-1zM434 471h1v55h-1zM434 668h1v93h-1zM435 398h1v126h-1zM435 665h1v97h-1zM436 369h1v153h-1zM436 674h1v89h-1zM437 463h1v63h-1zM437 651h1v111h-1zM438 470h1v54h-1zM438 670h1v91h-1zM439 480h1v46h-1zM439 685h1v76h-1zM440 478h1v48h-1zM440 669h1v88h-1zM441 449h1v74h-1zM441 688h1v75h-1zM442 506h1v30h-1zM442 662h1v92h-1zM443 490h1v35h-1zM443 668h1v92h-1zM444 497h1v29h-1zM444 661h1v87h-1zM445 506h1v45h-1zM445 636h1v99h-1zM446 503h1v44h-1zM446 651h1v104h-1zM447 277h1v160h-1zM447 472h1v48h-1zM447 641h1v119h-1zM448 206h1v306h-1zM448 638h1v122h-1zM449 173h1v151h-1zM449 421h1v87h-1zM449 656h1v106h-1zM450 169h1v153h-1zM450 420h1v85h-1zM450 659h1v103h-1zM451 146h1v166h-1zM451 420h1v85h-1zM451 666h1v95h-1zM452 116h1v194h-1zM452 425h1v80h-1zM452 671h1v91h-1zM453 116h1v192h-1zM453 438h1v62h-1zM453 664h1v98h-1zM454 116h1v384h-1zM454 670h1v90h-1zM455 116h1v383h-1zM455 689h1v72h-1zM456 116h1v154h-1zM456 426h1v67h-1zM456 704h1v55h-1zM457 116h1v55h-1zM457 449h1v36h-1zM457 727h1v37h-1zM458 445h1v42h-1zM458 744h1v20h-1zM459 117h1v102h-1zM459 422h1v73h-1zM459 744h1v20h-1zM460 116h1v15h-1zM460 755h1v9h-1zM461 116h1v20h-1zM461 755h1v9h-1zM462 757h1v7h-1zM463 757h1v7h-1zM464 757h1v7h-1zM465 757h1v7h-1zM466 758h1v6h-1zM467 758h1v6h-1zM468 755h1v9h-1zM469 756h1v8h-1zM470 754h1v10h-1zM471 755h1v9h-1zM472 756h1v8h-1zM473 756h1v8h-1zM474 757h1v7h-1zM475 116h1v2h-1zM475 758h1v6h-1zM476 116h1v50h-1zM476 757h1v7h-1zM477 116h1v88h-1zM477 754h1v10h-1zM478 116h1v108h-1zM478 680h1v84h-1zM479 116h1v79h-1zM479 626h1v138h-1zM480 116h1v42h-1zM480 613h1v151h-1zM481 625h1v139h-1zM482 116h1v33h-1zM482 598h1v166h-1zM483 116h1v30h-1zM483 563h1v81h-1zM483 693h1v71h-1zM484 116h1v25h-1zM484 552h1v76h-1zM484 698h1v66h-1zM485 116h1v66h-1zM485 548h1v77h-1zM485 699h1v65h-1zM486 116h1v103h-1zM486 548h1v75h-1zM486 698h1v66h-1zM487 116h1v64h-1zM487 551h1v75h-1zM487 692h1v72h-1zM488 116h1v88h-1zM488 547h1v52h-1zM488 695h1v69h-1zM489 116h1v96h-1zM489 439h1v2h-1zM489 546h1v22h-1zM489 699h1v65h-1zM490 140h1v118h-1zM490 352h1v117h-1zM490 544h1v18h-1zM490 711h1v53h-1zM491 211h1v64h-1zM491 339h1v87h-1zM491 443h1v38h-1zM491 543h1v16h-1zM491 721h1v43h-1zM492 214h1v84h-1zM492 332h1v26h-1zM492 446h1v35h-1zM492 543h1v17h-1zM492 719h1v45h-1zM493 201h1v89h-1zM493 336h1v140h-1zM493 544h1v22h-1zM493 708h1v56h-1zM494 118h1v173h-1zM494 341h1v125h-1zM494 547h1v40h-1zM494 698h1v66h-1zM495 146h1v326h-1zM495 549h1v55h-1zM495 700h1v64h-1zM496 208h1v148h-1zM496 387h1v90h-1zM496 554h1v60h-1zM496 718h1v46h-1zM497 232h1v151h-1zM497 441h1v36h-1zM497 569h1v80h-1zM498 246h1v230h-1zM498 642h1v78h-1zM499 263h1v210h-1zM499 679h1v46h-1zM500 269h1v198h-1zM500 683h1v51h-1zM501 275h1v183h-1zM501 685h1v41h-1zM502 278h1v186h-1zM502 683h1v45h-1zM503 331h1v142h-1zM503 686h1v45h-1zM504 306h1v167h-1zM504 683h1v48h-1zM505 355h1v121h-1zM505 683h1v43h-1zM506 444h1v35h-1zM506 688h1v40h-1zM507 455h1v32h-1zM507 681h1v49h-1zM508 445h1v36h-1zM508 685h1v42h-1zM509 442h1v36h-1zM509 682h1v45h-1zM510 456h1v31h-1zM510 676h1v46h-1zM511 451h1v30h-1zM511 676h1v46h-1zM512 452h1v31h-1zM512 683h1v43h-1zM513 453h1v37h-1zM513 678h1v45h-1zM514 459h1v42h-1zM514 682h1v49h-1zM515 475h1v41h-1zM515 661h1v59h-1zM516 492h1v55h-1zM516 614h1v94h-1zM517 493h1v62h-1zM517 611h1v83h-1zM518 506h1v177h-1zM519 510h1v160h-1zM520 525h1v123h-1zM521 558h1v64h-1zM522 570h1v34h-1z"/>
<path fill="#C8FF36" d="M180 490h1v274h-1zM181 500h1v72h-1zM181 616h1v148h-1zM182 324h1v22h-1zM182 493h1v34h-1zM182 687h1v77h-1zM183 323h1v46h-1zM183 492h1v37h-1zM183 694h1v70h-1zM184 326h1v26h-1zM184 491h1v25h-1zM184 660h1v104h-1zM185 491h1v30h-1zM185 624h1v140h-1zM186 490h1v26h-1zM186 644h1v120h-1zM187 328h1v30h-1zM187 450h1v60h-1zM187 646h1v118h-1zM188 490h1v31h-1zM188 637h1v127h-1zM189 499h1v35h-1zM189 631h1v133h-1zM190 375h1v73h-1zM190 672h1v92h-1zM191 331h1v32h-1zM191 708h1v56h-1zM192 333h1v30h-1zM192 698h1v66h-1zM193 333h1v32h-1zM193 697h1v67h-1zM194 332h1v33h-1zM194 700h1v64h-1zM195 280h1v19h-1zM195 750h1v14h-1zM196 283h1v20h-1zM196 751h1v13h-1zM197 284h1v19h-1zM197 745h1v19h-1zM198 284h1v20h-1zM198 744h1v20h-1zM199 283h1v20h-1zM199 754h1v10h-1zM200 285h1v25h-1zM200 743h1v21h-1zM201 289h1v34h-1zM201 731h1v33h-1zM202 300h1v37h-1zM202 730h1v34h-1zM203 317h1v42h-1zM203 719h1v45h-1zM204 337h1v87h-1zM204 700h1v64h-1zM205 343h1v83h-1zM205 691h1v73h-1zM206 392h1v71h-1zM206 650h1v114h-1zM207 432h1v90h-1zM207 644h1v120h-1zM208 462h1v43h-1zM208 641h1v123h-1zM209 478h1v286h-1zM210 495h1v269h-1zM211 518h1v246h-1zM212 539h1v225h-1zM213 674h1v90h-1zM214 650h1v114h-1zM215 652h1v112h-1zM216 661h1v103h-1zM217 650h1v114h-1zM218 692h1v72h-1zM219 682h1v82h-1zM220 669h1v95h-1zM221 676h1v88h-1zM222 683h1v81h-1zM223 693h1v71h-1zM224 674h1v90h-1zM225 663h1v101h-1zM226 670h1v94h-1zM227 667h1v97h-1zM228 660h1v104h-1zM229 660h1v104h-1zM230 667h1v97h-1zM231 668h1v96h-1zM232 661h1v103h-1zM233 653h1v111h-1zM234 690h1v74h-1zM235 701h1v63h-1zM236 675h1v89h-1zM237 678h1v86h-1zM238 675h1v89h-1zM239 676h1v88h-1zM240 684h1v80h-1zM241 660h1v104h-1zM242 658h1v106h-1zM243 642h1v122h-1zM244 660h1v104h-1zM245 661h1v103h-1zM246 665h1v99h-1zM247 701h1v63h-1zM248 692h1v72h-1zM249 732h1v32h-1zM250 723h1v41h-1zM251 699h1v65h-1zM252 729h1v35h-1zM253 701h1v63h-1zM254 680h1v84h-1zM255 691h1v73h-1zM256 683h1v81h-1zM257 665h1v99h-1zM258 645h1v119h-1zM259 677h1v87h-1zM260 677h1v87h-1zM261 674h1v90h-1zM262 690h1v74h-1zM263 686h1v78h-1zM264 711h1v53h-1zM265 684h1v80h-1zM266 683h1v81h-1zM267 662h1v102h-1zM268 674h1v90h-1zM269 662h1v102h-1zM270 674h1v90h-1zM271 668h1v96h-1zM272 680h1v84h-1zM273 659h1v105h-1zM274 690h1v74h-1zM275 689h1v75h-1zM276 695h1v69h-1zM277 658h1v106h-1zM278 684h1v80h-1zM279 701h1v63h-1zM280 711h1v53h-1zM281 758h1v6h-1zM282 737h1v27h-1zM283 757h1v7h-1zM284 751h1v13h-1zM285 756h1v8h-1zM286 759h1v5h-1zM287 756h1v8h-1zM288 756h1v8h-1zM289 705h1v59h-1zM290 756h1v8h-1zM291 726h1v38h-1zM292 707h1v57h-1zM293 693h1v71h-1zM294 713h1v51h-1zM295 690h1v74h-1zM296 693h1v71h-1zM297 682h1v82h-1zM298 672h1v92h-1zM299 694h1v70h-1zM300 695h1v69h-1zM301 693h1v71h-1zM302 681h1v83h-1zM303 699h1v65h-1zM304 691h1v73h-1zM305 697h1v18h-1zM305 757h1v7h-1zM306 671h1v58h-1zM306 753h1v11h-1zM307 668h1v62h-1zM307 754h1v10h-1zM308 666h1v65h-1zM308 753h1v11h-1zM309 680h1v46h-1zM309 756h1v8h-1zM310 670h1v62h-1zM310 750h1v14h-1zM311 672h1v55h-1zM311 757h1v7h-1zM312 654h1v81h-1zM312 751h1v13h-1zM313 664h1v64h-1zM313 759h1v5h-1zM314 686h1v36h-1zM314 758h1v6h-1zM315 690h1v26h-1zM315 763h1v1h-1zM316 760h1v4h-1zM318 762h1v2h-1zM319 759h1v5h-1zM320 760h1v4h-1zM321 763h1v1h-1zM322 763h1v1h-1zM323 761h1v3h-1zM325 759h1v5h-1zM328 763h1v1h-1zM329 758h1v6h-1zM330 759h1v5h-1zM331 736h1v28h-1zM332 733h1v31h-1zM333 482h1v282h-1zM334 435h1v329h-1zM335 485h1v279h-1zM336 469h1v67h-1zM336 624h1v140h-1zM337 467h1v63h-1zM337 631h1v133h-1zM338 415h1v113h-1zM338 638h1v126h-1zM339 481h1v38h-1zM339 639h1v125h-1zM340 469h1v43h-1zM340 637h1v127h-1zM341 342h1v173h-1zM341 692h1v72h-1zM342 358h1v167h-1zM342 674h1v90h-1zM343 371h1v154h-1zM343 668h1v96h-1zM344 388h1v137h-1zM344 637h1v127h-1zM345 347h1v168h-1zM345 680h1v84h-1zM346 427h1v78h-1zM346 706h1v58h-1zM347 460h1v52h-1zM347 693h1v71h-1zM348 462h1v57h-1zM348 663h1v101h-1zM349 484h1v45h-1zM349 636h1v128h-1zM350 490h1v39h-1zM350 636h1v128h-1zM351 489h1v41h-1zM351 646h1v118h-1zM352 486h1v41h-1zM352 637h1v127h-1zM353 497h1v42h-1zM353 634h1v130h-1zM354 525h1v54h-1zM354 600h1v164h-1zM355 526h1v238h-1zM356 525h1v239h-1zM360 512h1v44h-1zM360 604h1v81h-1zM360 715h1v49h-1zM361 496h1v30h-1zM361 639h1v125h-1zM362 496h1v27h-1zM362 625h1v139h-1zM363 491h1v27h-1zM363 651h1v113h-1zM364 493h1v27h-1zM364 637h1v127h-1zM365 495h1v26h-1zM365 622h1v142h-1zM366 496h1v37h-1zM366 615h1v149h-1zM367 500h1v63h-1zM367 580h1v184h-1zM368 509h1v255h-1zM391 356h1v34h-1zM391 544h1v28h-1zM392 347h1v53h-1zM392 544h1v28h-1zM394 520h1v67h-1zM395 510h1v38h-1zM395 597h1v52h-1zM396 341h1v67h-1zM396 490h1v38h-1zM396 627h1v34h-1zM397 334h1v102h-1zM397 497h1v41h-1zM397 624h1v32h-1zM398 516h1v23h-1zM398 621h1v33h-1zM399 516h1v18h-1zM399 613h1v41h-1zM400 517h1v16h-1zM400 623h1v33h-1zM401 516h1v15h-1zM401 617h1v36h-1zM402 517h1v16h-1zM402 614h1v38h-1zM403 516h1v14h-1zM403 626h1v47h-1zM404 517h1v14h-1zM404 626h1v36h-1zM405 517h1v15h-1zM405 626h1v35h-1zM406 515h1v14h-1zM406 631h1v38h-1zM407 514h1v17h-1zM407 624h1v40h-1zM408 511h1v20h-1zM408 618h1v36h-1zM409 509h1v18h-1zM409 620h1v38h-1zM410 516h1v40h-1zM410 596h1v52h-1zM411 515h1v32h-1zM411 599h1v53h-1zM412 518h1v42h-1zM412 602h1v57h-1zM413 513h1v18h-1zM413 600h1v56h-1zM414 516h1v39h-1zM414 594h1v61h-1zM415 511h1v20h-1zM415 602h1v54h-1zM416 511h1v20h-1zM416 610h1v52h-1zM417 509h1v19h-1zM417 617h1v46h-1zM418 512h1v19h-1zM418 602h1v51h-1zM419 511h1v19h-1zM419 616h1v40h-1zM420 513h1v174h-1zM421 508h1v188h-1zM422 509h1v167h-1zM423 513h1v173h-1zM424 514h1v144h-1zM425 512h1v141h-1zM426 514h1v140h-1zM427 511h1v143h-1zM428 524h1v140h-1zM429 565h1v59h-1zM430 549h1v85h-1zM431 559h1v62h-1zM432 548h1v81h-1zM433 549h1v82h-1zM434 526h1v142h-1zM435 524h1v141h-1zM436 522h1v152h-1zM437 526h1v125h-1zM438 524h1v146h-1zM439 526h1v159h-1zM440 526h1v143h-1zM441 523h1v165h-1zM442 536h1v126h-1zM443 525h1v143h-1zM444 526h1v135h-1zM445 551h1v85h-1zM446 547h1v104h-1zM447 520h1v121h-1zM448 512h1v126h-1zM449 324h1v97h-1zM449 508h1v148h-1zM450 322h1v98h-1zM450 505h1v154h-1zM451 312h1v108h-1zM451 505h1v161h-1zM452 310h1v115h-1zM452 505h1v166h-1zM453 308h1v130h-1zM453 500h1v164h-1zM454 500h1v170h-1zM455 499h1v190h-1zM456 270h1v156h-1zM456 493h1v211h-1zM457 171h1v278h-1zM457 485h1v242h-1zM458 116h1v329h-1zM458 487h1v77h-1zM458 634h1v110h-1zM459 116h1v1h-1zM459 219h1v203h-1zM459 495h1v83h-1zM459 615h1v129h-1zM460 131h1v75h-1zM460 741h1v14h-1zM461 136h1v64h-1zM461 734h1v21h-1zM462 116h1v41h-1zM462 744h1v13h-1zM463 116h1v34h-1zM463 747h1v10h-1zM464 116h1v32h-1zM464 734h1v23h-1zM465 116h1v26h-1zM465 747h1v10h-1zM466 116h1v40h-1zM466 748h1v10h-1zM467 116h1v45h-1zM467 748h1v10h-1zM468 116h1v65h-1zM468 702h1v53h-1zM469 116h1v54h-1zM469 727h1v29h-1zM470 116h1v59h-1zM470 709h1v45h-1zM471 116h1v54h-1zM471 717h1v38h-1zM472 116h1v59h-1zM472 723h1v33h-1zM473 116h1v54h-1zM473 725h1v31h-1zM474 116h1v57h-1zM474 729h1v28h-1zM475 118h1v88h-1zM475 748h1v10h-1zM476 166h1v97h-1zM476 660h1v97h-1zM477 204h1v68h-1zM477 599h1v155h-1zM478 224h1v68h-1zM478 412h1v55h-1zM478 568h1v112h-1zM479 195h1v73h-1zM479 562h1v64h-1zM480 158h1v106h-1zM480 558h1v55h-1zM481 116h1v131h-1zM481 557h1v68h-1zM482 149h1v116h-1zM482 547h1v51h-1zM483 146h1v125h-1zM483 540h1v23h-1zM484 141h1v137h-1zM484 538h1v14h-1zM485 182h1v104h-1zM485 389h1v94h-1zM485 538h1v10h-1zM486 219h1v72h-1zM486 364h1v117h-1zM486 538h1v10h-1zM487 180h1v107h-1zM487 362h1v116h-1zM487 540h1v11h-1zM488 204h1v88h-1zM488 347h1v139h-1zM488 538h1v9h-1zM489 212h1v79h-1zM489 343h1v96h-1zM489 441h1v49h-1zM489 536h1v10h-1zM490 258h1v94h-1zM490 469h1v31h-1zM490 534h1v10h-1zM491 275h1v64h-1zM491 481h1v28h-1zM491 528h1v15h-1zM492 298h1v34h-1zM492 481h1v28h-1zM492 528h1v15h-1zM493 290h1v46h-1zM493 476h1v32h-1zM493 526h1v18h-1zM494 291h1v50h-1zM494 466h1v34h-1zM494 533h1v14h-1zM495 472h1v30h-1zM495 535h1v14h-1zM496 477h1v28h-1zM496 536h1v18h-1zM497 477h1v28h-1zM497 538h1v31h-1zM498 476h1v166h-1zM499 473h1v67h-1zM499 640h1v39h-1zM500 467h1v55h-1zM500 642h1v41h-1zM501 458h1v64h-1zM501 640h1v45h-1zM502 464h1v56h-1zM502 640h1v43h-1zM503 473h1v43h-1zM503 642h1v44h-1zM504 473h1v40h-1zM504 644h1v39h-1zM505 476h1v38h-1zM505 641h1v42h-1zM506 479h1v36h-1zM506 641h1v47h-1zM507 487h1v33h-1zM507 638h1v43h-1zM508 481h1v40h-1zM508 639h1v46h-1zM509 478h1v41h-1zM509 639h1v43h-1zM510 487h1v35h-1zM510 637h1v39h-1zM511 481h1v36h-1zM511 638h1v38h-1zM512 483h1v38h-1zM512 639h1v44h-1zM513 490h1v36h-1zM513 638h1v40h-1zM514 501h1v32h-1zM514 633h1v49h-1zM515 516h1v40h-1zM515 608h1v53h-1zM516 547h1v67h-1zM517 555h1v56h-1z"/>
<path fill="#FFED00" d="M181 572h1v44h-1zM182 527h1v160h-1zM183 529h1v165h-1zM184 516h1v144h-1zM185 521h1v103h-1zM186 516h1v128h-1zM187 510h1v136h-1zM188 521h1v116h-1zM189 534h1v97h-1zM190 448h1v96h-1zM190 654h1v18h-1zM191 363h1v173h-1zM191 672h1v36h-1zM192 363h1v171h-1zM192 665h1v33h-1zM193 365h1v169h-1zM193 665h1v32h-1zM194 365h1v170h-1zM194 667h1v33h-1zM195 299h1v42h-1zM195 714h1v36h-1zM196 303h1v43h-1zM196 707h1v44h-1zM197 303h1v40h-1zM197 710h1v35h-1zM198 304h1v51h-1zM198 711h1v33h-1zM199 303h1v68h-1zM199 712h1v42h-1zM200 310h1v84h-1zM200 703h1v40h-1zM201 323h1v104h-1zM201 698h1v33h-1zM202 337h1v109h-1zM202 695h1v35h-1zM203 359h1v121h-1zM203 680h1v39h-1zM204 424h1v87h-1zM204 649h1v51h-1zM205 426h1v128h-1zM205 614h1v77h-1zM206 463h1v187h-1zM207 522h1v122h-1zM208 505h1v136h-1zM336 536h1v88h-1zM337 530h1v48h-1zM337 583h1v48h-1zM338 528h1v36h-1zM338 608h1v30h-1zM339 519h1v41h-1zM339 602h1v37h-1zM340 512h1v45h-1zM340 601h1v36h-1zM341 515h1v41h-1zM341 610h1v82h-1zM342 525h1v149h-1zM343 525h1v143h-1zM344 525h1v112h-1zM345 515h1v41h-1zM345 611h1v69h-1zM346 505h1v47h-1zM346 613h1v93h-1zM347 512h1v45h-1zM347 605h1v88h-1zM348 519h1v59h-1zM348 586h1v77h-1zM349 529h1v49h-1zM349 586h1v50h-1zM350 529h1v42h-1zM350 594h1v42h-1zM351 530h1v36h-1zM351 607h1v39h-1zM352 527h1v38h-1zM352 604h1v33h-1zM353 539h1v95h-1zM354 579h1v21h-1zM360 556h1v48h-1zM361 526h1v113h-1zM362 523h1v102h-1zM363 518h1v45h-1zM363 583h1v68h-1zM364 520h1v117h-1zM365 521h1v101h-1zM366 533h1v82h-1zM367 563h1v17h-1zM395 548h1v49h-1zM396 528h1v99h-1zM397 538h1v86h-1zM398 539h1v82h-1zM399 534h1v79h-1zM400 533h1v90h-1zM401 531h1v86h-1zM402 533h1v81h-1zM403 530h1v96h-1zM404 531h1v95h-1zM405 532h1v94h-1zM406 529h1v102h-1zM407 531h1v93h-1zM408 531h1v87h-1zM409 527h1v93h-1zM410 556h1v40h-1zM411 547h1v52h-1zM412 560h1v42h-1zM413 531h1v69h-1zM414 555h1v39h-1zM415 531h1v71h-1zM416 531h1v79h-1zM417 528h1v89h-1zM418 531h1v71h-1zM419 530h1v86h-1zM458 564h1v70h-1zM459 578h1v37h-1zM460 206h1v118h-1zM460 351h1v157h-1zM460 543h1v198h-1zM461 200h1v310h-1zM461 539h1v195h-1zM462 157h1v53h-1zM462 625h1v119h-1zM463 150h1v56h-1zM463 626h1v121h-1zM464 148h1v60h-1zM464 617h1v117h-1zM465 142h1v62h-1zM465 629h1v118h-1zM466 156h1v105h-1zM466 547h1v201h-1zM467 161h1v123h-1zM467 547h1v201h-1zM468 181h1v110h-1zM468 546h1v156h-1zM469 170h1v121h-1zM469 546h1v181h-1zM470 175h1v115h-1zM470 546h1v163h-1zM471 170h1v121h-1zM471 547h1v170h-1zM472 175h1v117h-1zM472 548h1v175h-1zM473 170h1v121h-1zM473 548h1v177h-1zM474 173h1v115h-1zM474 548h1v181h-1zM475 206h1v89h-1zM475 546h1v202h-1zM476 263h1v240h-1zM476 541h1v119h-1zM477 272h1v240h-1zM477 534h1v65h-1zM478 292h1v120h-1zM478 467h1v50h-1zM478 530h1v38h-1zM479 268h1v294h-1zM480 264h1v294h-1zM481 247h1v50h-1zM481 340h1v217h-1zM482 265h1v52h-1zM482 337h1v210h-1zM483 271h1v269h-1zM484 278h1v44h-1zM484 342h1v196h-1zM485 286h1v103h-1zM485 483h1v55h-1zM486 291h1v73h-1zM486 481h1v57h-1zM487 287h1v75h-1zM487 478h1v62h-1zM488 292h1v55h-1zM488 486h1v52h-1zM489 291h1v52h-1zM489 490h1v46h-1zM490 500h1v34h-1zM491 509h1v19h-1zM492 509h1v19h-1zM493 508h1v18h-1zM494 500h1v33h-1zM495 502h1v33h-1zM496 505h1v31h-1zM497 505h1v33h-1zM499 540h1v100h-1zM500 522h1v11h-1zM500 616h1v26h-1zM501 522h1v11h-1zM501 613h1v27h-1zM502 520h1v30h-1zM502 603h1v37h-1zM503 516h1v126h-1zM504 513h1v131h-1zM505 514h1v127h-1zM506 515h1v25h-1zM506 618h1v23h-1zM507 520h1v17h-1zM507 622h1v16h-1zM508 521h1v17h-1zM508 624h1v15h-1zM509 519h1v18h-1zM509 624h1v15h-1zM510 522h1v17h-1zM510 622h1v15h-1zM511 517h1v19h-1zM511 622h1v16h-1zM512 521h1v17h-1zM512 624h1v15h-1zM513 526h1v18h-1zM513 621h1v17h-1zM514 533h1v30h-1zM514 603h1v30h-1zM515 556h1v52h-1z"/>
<path fill="#FFA400" d="M190 544h1v7h-1zM190 637h1v17h-1zM191 536h1v13h-1zM191 649h1v23h-1zM192 534h1v15h-1zM192 642h1v23h-1zM193 534h1v15h-1zM193 643h1v22h-1zM194 535h1v14h-1zM194 646h1v21h-1zM195 341h1v53h-1zM195 685h1v29h-1zM196 346h1v55h-1zM196 673h1v34h-1zM197 343h1v56h-1zM197 679h1v31h-1zM198 355h1v72h-1zM198 683h1v28h-1zM199 371h1v92h-1zM199 679h1v33h-1zM200 394h1v101h-1zM200 669h1v34h-1zM201 427h1v98h-1zM201 666h1v32h-1zM202 446h1v87h-1zM202 660h1v35h-1zM203 480h1v78h-1zM203 599h1v81h-1zM204 511h1v138h-1zM205 554h1v60h-1zM337 578h1v5h-1zM338 564h1v44h-1zM339 560h1v42h-1zM340 557h1v44h-1zM341 556h1v54h-1zM345 556h1v55h-1zM346 552h1v61h-1zM347 557h1v48h-1zM348 578h1v8h-1zM349 578h1v8h-1zM350 571h1v23h-1zM351 566h1v41h-1zM352 565h1v39h-1zM363 563h1v20h-1zM460 324h1v27h-1zM460 508h1v35h-1zM461 510h1v29h-1zM462 210h1v49h-1zM462 547h1v78h-1zM463 206h1v53h-1zM463 548h1v78h-1zM464 208h1v51h-1zM464 548h1v69h-1zM465 204h1v54h-1zM465 548h1v81h-1zM466 261h1v39h-1zM466 540h1v7h-1zM467 284h1v23h-1zM467 540h1v7h-1zM468 291h1v21h-1zM468 537h1v9h-1zM469 291h1v21h-1zM469 539h1v7h-1zM470 290h1v20h-1zM470 537h1v9h-1zM471 291h1v22h-1zM471 367h1v128h-1zM471 540h1v7h-1zM472 292h1v25h-1zM472 347h1v150h-1zM472 542h1v6h-1zM473 291h1v24h-1zM473 365h1v131h-1zM473 542h1v6h-1zM474 288h1v24h-1zM474 369h1v129h-1zM474 542h1v6h-1zM475 295h1v208h-1zM475 537h1v9h-1zM476 503h1v17h-1zM476 525h1v16h-1zM477 512h1v22h-1zM478 517h1v13h-1zM481 297h1v43h-1zM482 317h1v20h-1zM484 322h1v20h-1zM500 533h1v83h-1zM501 533h1v80h-1zM502 550h1v53h-1zM506 540h1v78h-1zM507 537h1v22h-1zM507 596h1v26h-1zM508 538h1v20h-1zM508 600h1v24h-1zM509 537h1v19h-1zM509 603h1v21h-1zM510 539h1v23h-1zM510 597h1v25h-1zM511 536h1v20h-1zM511 599h1v23h-1zM512 538h1v20h-1zM512 601h1v23h-1zM513 544h1v30h-1zM513 590h1v31h-1zM514 563h1v40h-1z"/>
<path fill="#FF5B00" d="M190 551h1v86h-1zM191 549h1v100h-1zM192 549h1v93h-1zM193 549h1v94h-1zM194 549h1v97h-1zM195 394h1v133h-1zM195 652h1v33h-1zM196 401h1v127h-1zM196 638h1v35h-1zM197 399h1v63h-1zM197 639h1v40h-1zM198 427h1v73h-1zM198 640h1v43h-1zM199 463h1v67h-1zM199 639h1v40h-1zM200 495h1v41h-1zM200 634h1v35h-1zM201 525h1v18h-1zM201 626h1v40h-1zM202 533h1v127h-1zM203 558h1v41h-1zM462 259h1v13h-1zM462 417h1v95h-1zM462 533h1v14h-1zM463 259h1v10h-1zM463 541h1v7h-1zM464 259h1v10h-1zM464 421h1v62h-1zM464 541h1v7h-1zM465 258h1v11h-1zM465 542h1v6h-1zM466 300h1v212h-1zM466 527h1v13h-1zM467 307h1v200h-1zM467 529h1v11h-1zM468 312h1v204h-1zM468 525h1v12h-1zM469 312h1v197h-1zM469 527h1v12h-1zM470 310h1v205h-1zM470 525h1v12h-1zM471 313h1v54h-1zM471 495h1v17h-1zM471 528h1v12h-1zM472 317h1v30h-1zM472 497h1v15h-1zM472 531h1v11h-1zM473 315h1v50h-1zM473 496h1v14h-1zM473 532h1v10h-1zM474 312h1v57h-1zM474 498h1v14h-1zM474 531h1v11h-1zM475 503h1v34h-1zM476 520h1v5h-1zM507 559h1v37h-1zM508 558h1v42h-1zM509 556h1v47h-1zM510 562h1v35h-1zM511 556h1v43h-1zM512 558h1v43h-1zM513 574h1v16h-1z"/>
<path fill="#FF1200" d="M195 527h1v14h-1zM195 630h1v22h-1zM196 528h1v12h-1zM196 623h1v15h-1zM197 462h1v71h-1zM197 623h1v16h-1zM198 500h1v37h-1zM198 621h1v19h-1zM199 530h1v14h-1zM199 607h1v32h-1zM200 536h1v98h-1zM201 543h1v83h-1zM462 272h1v145h-1zM462 512h1v21h-1zM463 269h1v14h-1zM463 345h1v196h-1zM464 269h1v15h-1zM464 340h1v81h-1zM464 483h1v58h-1zM465 269h1v13h-1zM465 339h1v203h-1zM466 512h1v15h-1zM467 507h1v22h-1zM468 516h1v9h-1zM469 509h1v18h-1zM470 515h1v10h-1zM471 512h1v16h-1zM472 512h1v19h-1zM473 510h1v22h-1zM474 512h1v19h-1z"/>
<path fill="#C80000" d="M195 541h1v89h-1zM196 540h1v28h-1zM196 591h1v32h-1zM197 533h1v14h-1zM197 601h1v22h-1zM198 537h1v25h-1zM198 588h1v33h-1zM199 544h1v63h-1zM463 283h1v62h-1zM464 284h1v56h-1zM465 282h1v57h-1z"/>
<path fill="#7F0000" d="M196 568h1v23h-1zM197 547h1v54h-1zM198 562h1v26h-1z"/>
</g>
<g id="cbar" shape-rendering="crispEdges">
<rect x="1031" y="721" width="25" height="44" fill="#00007F"/>
<rect x="1031" y="678" width="25" height="44" fill="#0000C8"/>
<rect x="1031" y="635" width="25" height="44" fill="#0012FF"/>
<rect x="1031" y="592" width="25" height="44" fill="#005BFF"/>
<rect x="1031" y="548" width="25" height="45" fill="#00A4FF"/>
<rect x="1031" y="505" width="25" height="44" fill="#00EDFF"/>
<rect x="1031" y="462" width="25" height="44" fill="#36FFC8"/>
<rect x="1031" y="419" width="25" height="44" fill="#7FFF7F"/>
<rect x="1031" y="376" width="25" height="44" fill="#C8FF36"/>
<rect x="1031" y="332" width="25" height="45" fill="#FFED00"/>
<rect x="1031" y="289" width="25" height="44" fill="#FFA400"/>
<rect x="1031" y="246" width="25" height="44" fill="#FF5B00"/>
<rect x="1031" y="203" width="25" height="44" fill="#FF1200"/>
<rect x="1031" y="160" width="25" height="44" fill="#C80000"/>
<rect x="1031" y="116" width="25" height="45" fill="#7F0000"/>
<rect x="1031" y="764" width="25" height="1" fill="#000"/>
<rect x="1031" y="721" width="25" height="1" fill="#000"/>
<rect x="1031" y="678" width="25" height="1" fill="#000"/>
<rect x="1031" y="635" width="25" height="1" fill="#000"/>
<rect x="1031" y="592" width="25" height="1" fill="#000"/>
<rect x="1031" y="548" width="25" height="1" fill="#000"/>
<rect x="1031" y="505" width="25" height="1" fill="#000"/>
<rect x="1031" y="462" width="25" height="1" fill="#000"/>
<rect x="1031" y="419" width="25" height="1" fill="#000"/>
<rect x="1031" y="376" width="25" height="1" fill="#000"/>
<rect x="1031" y="332" width="25" height="1" fill="#000"/>
<rect x="1031" y="289" width="25" height="1" fill="#000"/>
<rect x="1031" y="246" width="25" height="1" fill="#000"/>
<rect x="1031" y="203" width="25" height="1" fill="#000"/>
<rect x="1031" y="160" width="25" height="1" fill="#000"/>
<rect x="1031" y="116" width="25" height="1" fill="#000"/>
<rect x="1031" y="116" width="1" height="649" fill="#000"/>
<rect x="1055" y="116" width="1" height="649" fill="#000"/>
</g>
<g id="axes" stroke="#000" stroke-width="1" fill="none" shape-rendering="crispEdges">
<path d="M179.5 116V765"/>
<path d="M172 764.5H180"/>
<path d="M172 656.5H180"/>
<path d="M172 548.5H180"/>
<path d="M172 440.5H180"/>
<path d="M172 332.5H180"/>
<path d="M172 224.5H180"/>
<path d="M172 116.5H180"/>
<path d="M179 764.5H991.0"/>
<path d="M179.5 764V781"/>
<path d="M215.5 764V781"/>
<path d="M250.5 764V781"/>
<path d="M285.5 764V781"/>
<path d="M320.5 764V781"/>
<path d="M356.5 764V781"/>
<path d="M391.5 764V781"/>
<path d="M426.5 764V781"/>
<path d="M461.5 764V781"/>
<path d="M497.5 764V781"/>
<path d="M532.5 764V781"/>
<path d="M567.5 764V781"/>
<path d="M602.5 764V781"/>
<path d="M638.5 764V781"/>
<path d="M673.5 764V781"/>
<path d="M708.5 764V781"/>
<path d="M743.5 764V781"/>
<path d="M779.5 764V781"/>
<path d="M814.5 764V781"/>
<path d="M849.5 764V781"/>
<path d="M884.5 764V781"/>
<path d="M920.5 764V781"/>
<path d="M955.5 764V781"/>
<path d="M990.5 764V781"/>
<path d="M1055 764.5H1064"/>
<path d="M1055 656.5H1064"/>
<path d="M1055 548.5H1064"/>
<path d="M1055 440.5H1064"/>
<path d="M1055 332.5H1064"/>
<path d="M1055 224.5H1064"/>
<path d="M1055 116.5H1064"/>
</g>
<g id="labels">
<text class="ax" x="164" y="771.1" text-anchor="end">0.0</text>
<text class="ax" x="1070.5" y="771.3">0</text>
<text class="ax" x="164" y="663.1" text-anchor="end">0.5</text>
<text class="ax" x="1070.5" y="663.3">5</text>
<text class="ax" x="164" y="555.1" text-anchor="end">1.0</text>
<text class="ax" x="1070.5" y="555.3">10</text>
<text class="ax" x="164" y="447.1" text-anchor="end">1.5</text>
<text class="ax" x="1070.5" y="447.3">15</text>
<text class="ax" x="164" y="339.1" text-anchor="end">2.0</text>
<text class="ax" x="1070.5" y="339.3">20</text>
<text class="ax" x="164" y="231.1" text-anchor="end">2.5</text>
<text class="ax" x="1070.5" y="231.3">25</text>
<text class="ax" x="164" y="123.1" text-anchor="end">3.0</text>
<text class="ax" x="1070.5" y="123.3">30</text>
<text class="tk" x="179.0" y="791" text-anchor="middle">00</text>
<text class="tk" x="215.0" y="791" text-anchor="middle">01</text>
<text class="tk" x="250.0" y="791" text-anchor="middle">02</text>
<text class="tk" x="285.0" y="791" text-anchor="middle">03</text>
<text class="tk" x="320.0" y="791" text-anchor="middle">04</text>
<text class="tk" x="356.0" y="791" text-anchor="middle">05</text>
<text class="tk" x="391.0" y="791" text-anchor="middle">06</text>
<text class="tk" x="426.0" y="791" text-anchor="middle">07</text>
<text class="tk" x="461.0" y="791" text-anchor="middle">08</text>
<text class="tk" x="497.0" y="791" text-anchor="middle">09</text>
<text class="tk" x="532.0" y="791" text-anchor="middle">10</text>
<text class="tk" x="567.0" y="791" text-anchor="middle">11</text>
<text class="tk" x="602.0" y="791" text-anchor="middle">12</text>
<text class="tk" x="638.0" y="791" text-anchor="middle">13</text>
<text class="tk" x="673.0" y="791" text-anchor="middle">14</text>
<text class="tk" x="708.0" y="791" text-anchor="middle">15</text>
<text class="tk" x="743.0" y="791" text-anchor="middle">16</text>
<text class="tk" x="779.0" y="791" text-anchor="middle">17</text>
<text class="tk" x="814.0" y="791" text-anchor="middle">18</text>
<text class="tk" x="849.0" y="791" text-anchor="middle">19</text>
<text class="tk" x="884.0" y="791" text-anchor="middle">20</text>
<text class="tk" x="920.0" y="791" text-anchor="middle">21</text>
<text class="tk" x="955.0" y="791" text-anchor="middle">22</text>
<text class="tk" x="990.0" y="791" text-anchor="middle">23</text>
<text class="ttl" x="598.6" y="92.2" text-anchor="middle">Water Vapor (g/m3)</text>
<text class="lab" x="577.1" y="828.8" text-anchor="middle" style="font-size:17px;letter-spacing:0.63px">Hours (UTC)</text>
<text class="lab" transform="translate(87.8 548.3) rotate(-90)" text-anchor="middle" style="font-size:17px;letter-spacing:0.47px">Height (km)</text>
</g>
</svg>
</body></html>
